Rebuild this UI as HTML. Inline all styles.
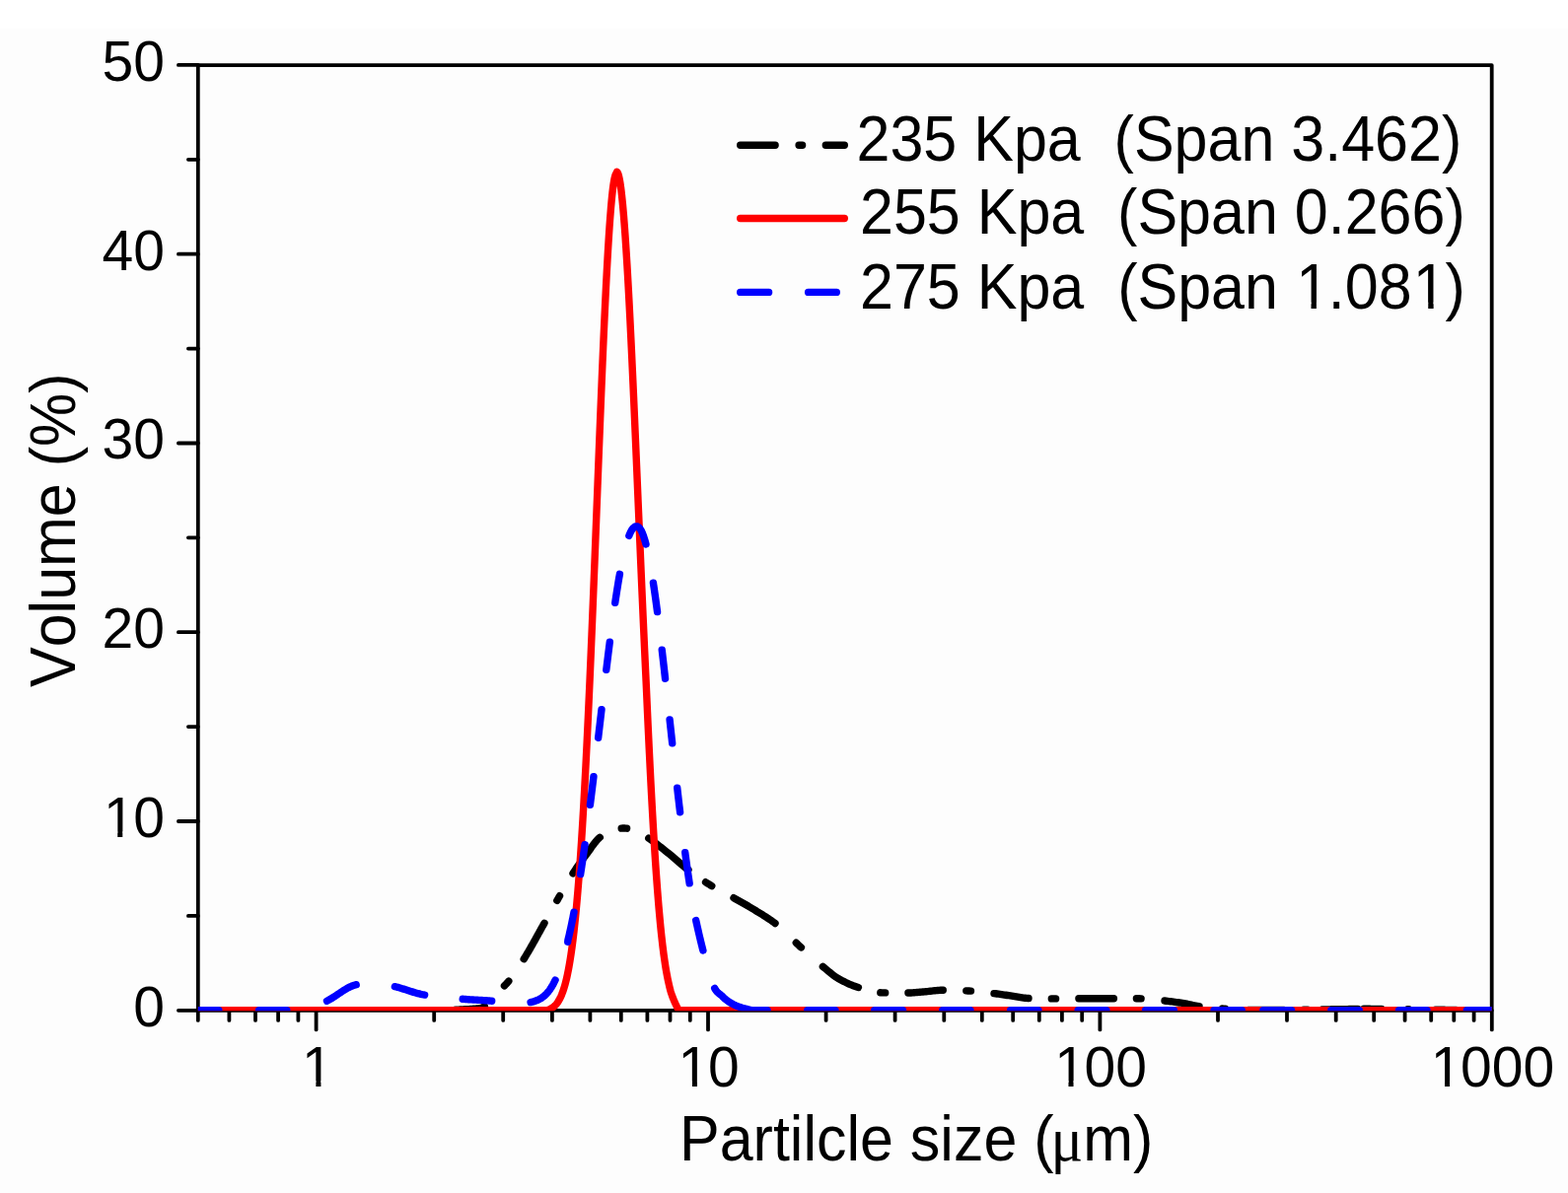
<!DOCTYPE html>
<html><head><meta charset="utf-8"><style>
html,body{margin:0;padding:0;background:#fff;}
svg{display:block;}
text{font-family:"Liberation Sans",Arial,sans-serif;fill:#000;font-kerning:none;}
</style></head><body>
<svg width="1590" height="1210" viewBox="0 0 1590 1210">
<rect x="0" y="29" width="1590" height="1181" fill="#fdfdfd"/>
<defs><clipPath id="pc"><rect x="200.8" y="66.1" width="1311.9" height="959.0999999999999"/></clipPath></defs>
<g stroke="#000" stroke-width="3.8" stroke-linecap="round" fill="none">
<rect x="200.8" y="66.1" width="1311.9" height="958.6999999999999" stroke-linejoin="round"/>
<line x1="180.9" y1="1024.8" x2="200.8" y2="1024.8"/>
<line x1="180.9" y1="833.0" x2="200.8" y2="833.0"/>
<line x1="180.9" y1="641.2" x2="200.8" y2="641.2"/>
<line x1="180.9" y1="449.5" x2="200.8" y2="449.5"/>
<line x1="180.9" y1="257.7" x2="200.8" y2="257.7"/>
<line x1="180.9" y1="65.9" x2="200.8" y2="65.9"/>
<line x1="190.9" y1="928.9" x2="200.8" y2="928.9"/>
<line x1="190.9" y1="737.1" x2="200.8" y2="737.1"/>
<line x1="190.9" y1="545.3" x2="200.8" y2="545.3"/>
<line x1="190.9" y1="353.6" x2="200.8" y2="353.6"/>
<line x1="190.9" y1="161.8" x2="200.8" y2="161.8"/>
<line x1="320.6" y1="1024.8" x2="320.6" y2="1044.4"/>
<line x1="718.0" y1="1024.8" x2="718.0" y2="1044.4"/>
<line x1="1115.4" y1="1024.8" x2="1115.4" y2="1044.4"/>
<line x1="1512.8" y1="1024.8" x2="1512.8" y2="1044.4"/>
<line x1="232.4" y1="1024.8" x2="232.4" y2="1034.9"/>
<line x1="259.0" y1="1024.8" x2="259.0" y2="1034.9"/>
<line x1="282.1" y1="1024.8" x2="282.1" y2="1034.9"/>
<line x1="302.4" y1="1024.8" x2="302.4" y2="1034.9"/>
<line x1="440.2" y1="1024.8" x2="440.2" y2="1034.9"/>
<line x1="510.2" y1="1024.8" x2="510.2" y2="1034.9"/>
<line x1="559.9" y1="1024.8" x2="559.9" y2="1034.9"/>
<line x1="598.4" y1="1024.8" x2="598.4" y2="1034.9"/>
<line x1="629.8" y1="1024.8" x2="629.8" y2="1034.9"/>
<line x1="656.4" y1="1024.8" x2="656.4" y2="1034.9"/>
<line x1="679.5" y1="1024.8" x2="679.5" y2="1034.9"/>
<line x1="699.8" y1="1024.8" x2="699.8" y2="1034.9"/>
<line x1="837.6" y1="1024.8" x2="837.6" y2="1034.9"/>
<line x1="907.6" y1="1024.8" x2="907.6" y2="1034.9"/>
<line x1="957.3" y1="1024.8" x2="957.3" y2="1034.9"/>
<line x1="995.8" y1="1024.8" x2="995.8" y2="1034.9"/>
<line x1="1027.2" y1="1024.8" x2="1027.2" y2="1034.9"/>
<line x1="1053.8" y1="1024.8" x2="1053.8" y2="1034.9"/>
<line x1="1076.9" y1="1024.8" x2="1076.9" y2="1034.9"/>
<line x1="1097.2" y1="1024.8" x2="1097.2" y2="1034.9"/>
<line x1="1235.0" y1="1024.8" x2="1235.0" y2="1034.9"/>
<line x1="1305.0" y1="1024.8" x2="1305.0" y2="1034.9"/>
<line x1="1354.7" y1="1024.8" x2="1354.7" y2="1034.9"/>
<line x1="1393.2" y1="1024.8" x2="1393.2" y2="1034.9"/>
<line x1="1424.6" y1="1024.8" x2="1424.6" y2="1034.9"/>
<line x1="1451.2" y1="1024.8" x2="1451.2" y2="1034.9"/>
<line x1="1474.3" y1="1024.8" x2="1474.3" y2="1034.9"/>
<line x1="1494.6" y1="1024.8" x2="1494.6" y2="1034.9"/>
<line x1="200.8" y1="1024.8" x2="200.8" y2="1034.9"/>
</g>
<g clip-path="url(#pc)" fill="none" stroke-width="7.4" stroke-linejoin="round" stroke-linecap="round">
<path d="M462.00,1024.19 L463.50,1024.14 L465.00,1024.08 L466.50,1024.03 L468.00,1023.96 L469.50,1023.89 L471.00,1023.82 L472.50,1023.74 L474.00,1023.66 L475.50,1023.57 L477.00,1023.48 L478.50,1023.38 L480.00,1023.28 L481.50,1023.15 L483.00,1023.01 L484.50,1022.83 L486.00,1022.63 L487.50,1022.39 L488.95,1022.02 L490.30,1021.29 L491.25,1020.58 M511.45,999.89 L512.50,998.79 L513.55,997.67 L514.60,996.52 L515.60,995.38 L515.80,995.14 M531.20,972.70 L532.00,971.42 L532.80,970.12 L533.60,968.81 L534.40,967.47 L535.20,966.13 L536.00,964.77 L536.80,963.40 L537.60,962.02 L538.35,960.71 L539.10,959.39 L539.85,958.07 L540.60,956.74 L541.35,955.41 L542.10,954.07 L542.85,952.72 L543.60,951.37 L544.35,950.02 L545.10,948.67 L545.85,947.32 L546.60,945.97 L547.35,944.61 L548.10,943.26 L548.85,941.92 L549.60,940.57 L550.35,939.23 L551.10,937.89 L551.85,936.57 L552.00,936.30 M564.85,913.36 L565.60,912.05 L566.35,910.74 L567.10,909.43 L567.50,908.73 M581.00,885.80 L581.85,884.50 L582.70,883.21 L583.55,881.94 L584.40,880.69 L585.25,879.45 L586.15,878.15 L587.05,876.87 L587.95,875.60 L588.85,874.34 L589.75,873.09 L590.65,871.86 L591.55,870.63 L592.45,869.41 L593.35,868.20 L594.25,867.00 L595.20,865.73 L596.10,864.51 L597.00,863.27 L597.90,862.00 L598.80,860.74 L599.70,859.47 L600.60,858.21 L601.50,856.98 L602.40,855.78 L603.35,854.55 L604.30,853.38 L605.30,852.22 L606.35,851.09 L607.45,850.03 L608.30,849.30 M630.20,840.14 L631.70,840.03 L633.20,840.00 L634.70,840.08 L635.60,840.17 M657.80,850.20 L659.05,851.05 L660.30,851.91 L661.55,852.80 L662.80,853.71 L664.05,854.64 L665.25,855.54 L666.45,856.46 L667.65,857.38 L668.85,858.32 L670.05,859.26 L671.25,860.21 L672.45,861.17 L673.65,862.13 L674.85,863.09 L676.05,864.04 L677.25,865.00 L678.45,865.97 L679.65,866.96 L680.85,867.96 L682.00,868.93 L683.15,869.91 L684.30,870.90 L685.45,871.89 L686.60,872.88 L687.75,873.87 L688.90,874.86 L690.05,875.84 L691.20,876.82 L692.40,877.82 L693.60,878.81 L694.80,879.78 L696.00,880.73 L697.20,881.65 L697.95,882.22 M715.55,894.76 L716.85,895.60 L718.15,896.42 L719.45,897.22 L720.75,898.01 L721.75,898.60 M744.00,910.70 L745.35,911.46 L746.70,912.22 L748.05,912.98 L749.40,913.74 L750.75,914.50 L752.10,915.26 L753.45,916.03 L754.80,916.79 L756.15,917.57 L757.45,918.32 L758.75,919.07 L760.05,919.83 L761.35,920.60 L762.65,921.38 L763.95,922.16 L765.25,922.95 L766.55,923.75 L767.85,924.54 L769.15,925.33 L770.45,926.12 L771.75,926.91 L773.05,927.72 L774.35,928.53 L775.65,929.35 L776.95,930.18 L778.25,931.03 L779.50,931.86 L780.75,932.71 L782.00,933.57 L783.25,934.46 L784.50,935.37 L785.75,936.31 L786.00,936.50 M807.30,956.29 L808.40,957.32 L809.55,958.37 L810.70,959.41 L811.85,960.46 L812.40,960.95 M834.40,980.30 L835.60,981.30 L836.75,982.27 L837.90,983.25 L839.05,984.23 L840.20,985.21 L841.40,986.21 L842.60,987.19 L843.80,988.15 L845.00,989.07 L846.25,989.99 L847.50,990.85 L848.80,991.68 L850.10,992.45 L851.45,993.21 L852.80,993.95 L854.15,994.68 L855.50,995.38 L856.85,996.06 L858.20,996.72 L859.60,997.38 L861.00,998.01 L862.40,998.61 L863.80,999.19 L865.20,999.74 L866.65,1000.27 L868.10,1000.77 L869.55,1001.24 L870.40,1001.50 M892.80,1006.81 L894.30,1006.88 L895.80,1006.90 L897.30,1006.92 L897.70,1006.92 M920.90,1007.00 L922.40,1006.98 L923.90,1006.94 L925.40,1006.87 L926.90,1006.77 L928.40,1006.66 L929.90,1006.54 L931.40,1006.40 L932.90,1006.26 L934.40,1006.11 L935.90,1005.97 L937.40,1005.82 L938.90,1005.69 L940.40,1005.57 L941.90,1005.43 L943.40,1005.27 L944.90,1005.11 L946.40,1004.93 L947.90,1004.77 L949.40,1004.61 L950.90,1004.46 L952.40,1004.35 L953.90,1004.26 L955.40,1004.21 L956.30,1004.20 M979.80,1004.89 L981.30,1004.96 L982.80,1005.03 L984.30,1005.12 L984.50,1005.13 M1008.00,1007.60 L1009.50,1007.78 L1011.00,1007.98 L1012.50,1008.18 L1014.00,1008.39 L1015.50,1008.61 L1017.00,1008.83 L1018.50,1009.05 L1020.00,1009.27 L1021.50,1009.50 L1023.00,1009.71 L1024.50,1009.93 L1026.00,1010.15 L1027.50,1010.38 L1029.00,1010.63 L1030.50,1010.89 L1032.00,1011.16 L1033.50,1011.41 L1035.00,1011.66 L1036.50,1011.89 L1038.00,1012.09 L1039.50,1012.26 L1041.00,1012.40 L1042.50,1012.48 L1043.00,1012.50 M1066.30,1012.90 L1067.80,1012.90 L1069.30,1012.90 L1070.60,1012.90 M1093.90,1012.70 L1095.40,1012.70 L1096.90,1012.70 L1098.40,1012.70 L1099.90,1012.70 L1101.40,1012.70 L1102.90,1012.70 L1104.40,1012.70 L1105.90,1012.70 L1107.40,1012.70 L1108.90,1012.70 L1110.40,1012.70 L1111.90,1012.70 L1113.40,1012.70 L1114.90,1012.70 L1116.40,1012.70 L1117.90,1012.70 L1119.40,1012.70 L1120.90,1012.70 L1122.40,1012.70 L1123.90,1012.70 L1125.40,1012.70 L1126.90,1012.70 L1128.40,1012.70 L1129.40,1012.70 M1152.40,1012.78 L1153.90,1012.79 L1155.40,1012.81 L1156.90,1012.84 L1157.10,1012.85 M1181.00,1015.05 L1182.50,1015.22 L1184.00,1015.39 L1185.50,1015.56 L1187.00,1015.74 L1188.50,1015.93 L1190.00,1016.13 L1191.50,1016.33 L1193.00,1016.54 L1194.50,1016.76 L1196.00,1016.98 L1197.50,1017.21 L1199.00,1017.44 L1200.50,1017.68 L1202.00,1017.95 L1203.50,1018.24 L1205.00,1018.55 L1206.50,1018.87 L1208.00,1019.19 L1209.50,1019.52 L1211.00,1019.84 L1212.50,1020.14 L1214.00,1020.42 L1215.50,1020.69 L1216.00,1020.77 M1239.50,1023.05 L1241.00,1023.10 L1242.50,1023.17 M1266.00,1024.43 L1267.50,1024.44 L1269.00,1024.44 L1270.50,1024.45 L1272.00,1024.45 L1273.50,1024.46 L1275.00,1024.46 L1276.50,1024.47 L1278.00,1024.47 L1279.50,1024.48 L1281.00,1024.48 L1282.50,1024.48 L1284.00,1024.49 L1285.50,1024.49 L1287.00,1024.49 L1288.50,1024.49 L1290.00,1024.49 L1291.50,1024.50 L1293.00,1024.50 L1294.50,1024.50 L1296.00,1024.50 L1297.50,1024.50 L1299.00,1024.50 L1300.50,1024.50 L1302.00,1024.50 M1322.00,1024.25 L1323.50,1024.23 L1325.00,1024.20 L1326.00,1024.18 M1340.90,1023.95 L1342.40,1023.92 L1343.90,1023.90 L1345.40,1023.88 L1346.90,1023.86 L1348.40,1023.84 L1349.90,1023.82 L1351.40,1023.80 L1352.90,1023.78 L1354.40,1023.75 L1355.90,1023.73 L1357.40,1023.71 L1358.90,1023.69 L1360.40,1023.67 L1361.90,1023.65 L1363.40,1023.62 L1364.90,1023.60 L1366.40,1023.58 L1367.90,1023.55 L1369.40,1023.52 L1370.90,1023.49 L1372.40,1023.46 L1373.90,1023.43 L1375.40,1023.41 L1376.90,1023.38 L1377.00,1023.38 M1383.00,1023.31 L1384.50,1023.30 L1386.00,1023.30 L1387.50,1023.31 L1389.00,1023.32 L1390.50,1023.34 L1392.00,1023.37 L1393.50,1023.39 L1395.00,1023.42 L1396.50,1023.45 L1398.00,1023.48 L1399.50,1023.51 L1401.00,1023.54 M1427.50,1023.80 L1428.50,1023.80 M1455.60,1024.11 L1457.10,1024.13 L1458.60,1024.16 L1460.10,1024.19 L1461.60,1024.23 L1463.10,1024.26 L1464.60,1024.30 L1466.10,1024.34 L1467.60,1024.37 L1469.10,1024.41 L1470.60,1024.45 L1472.10,1024.48 L1473.60,1024.51 L1475.10,1024.54 L1476.60,1024.56 L1478.10,1024.58 L1479.60,1024.60 L1481.10,1024.61 L1482.60,1024.62 L1484.10,1024.63 L1485.60,1024.64 L1487.10,1024.65 L1488.60,1024.66 L1490.10,1024.67 L1491.60,1024.68 L1492.00,1024.68" stroke="#000"/>
<path d="M190.0,1024.80 L190.5,1024.80 L191.0,1024.80 L191.5,1024.80 L192.0,1024.80 L192.5,1024.80 L193.0,1024.80 L193.5,1024.80 L194.0,1024.80 L194.5,1024.80 L195.0,1024.80 L195.5,1024.80 L196.0,1024.80 L196.5,1024.80 L197.0,1024.80 L197.5,1024.80 L198.0,1024.80 L198.5,1024.80 L199.0,1024.80 L199.5,1024.80 L200.0,1024.80 L200.5,1024.80 L201.0,1024.80 L201.5,1024.80 L202.0,1024.80 L202.5,1024.80 L203.0,1024.80 L203.5,1024.80 L204.0,1024.80 L204.5,1024.80 L205.0,1024.80 L205.5,1024.80 L206.0,1024.80 L206.5,1024.80 L207.0,1024.80 L207.5,1024.80 L208.0,1024.80 L208.5,1024.80 L209.0,1024.80 L209.5,1024.80 L210.0,1024.80 L210.5,1024.80 L211.0,1024.80 L211.5,1024.80 L212.0,1024.80 L212.5,1024.80 L213.0,1024.80 L213.5,1024.80 L214.0,1024.80 L214.5,1024.80 L215.0,1024.80 L215.5,1024.80 L216.0,1024.80 L216.5,1024.80 L217.0,1024.80 L217.5,1024.80 L218.0,1024.80 L218.5,1024.80 L219.0,1024.80 L219.5,1024.80 L220.0,1024.80 L220.5,1024.80 L221.0,1024.80 L221.5,1024.80 L222.0,1024.80 L222.5,1024.80 L223.0,1024.80 L223.5,1024.80 L224.0,1024.80 L224.5,1024.80 L225.0,1024.80 L225.5,1024.80 L226.0,1024.80 L226.5,1024.80 L227.0,1024.80 L227.5,1024.80 L228.0,1024.80 L228.5,1024.80 L229.0,1024.80 L229.5,1024.80 L230.0,1024.80 L230.5,1024.80 L231.0,1024.80 L231.5,1024.80 L232.0,1024.80 L232.5,1024.80 L233.0,1024.80 L233.5,1024.80 L234.0,1024.80 L234.5,1024.80 L235.0,1024.80 L235.5,1024.80 L236.0,1024.80 L236.5,1024.80 L237.0,1024.80 L237.5,1024.80 L238.0,1024.80 L238.5,1024.80 L239.0,1024.80 L239.5,1024.80 L240.0,1024.80 L240.5,1024.80 L241.0,1024.80 L241.5,1024.80 L242.0,1024.80 L242.5,1024.80 L243.0,1024.80 L243.5,1024.80 L244.0,1024.80 L244.5,1024.80 L245.0,1024.80 L245.5,1024.80 L246.0,1024.80 L246.5,1024.80 L247.0,1024.80 L247.5,1024.80 L248.0,1024.80 L248.5,1024.80 L249.0,1024.80 L249.5,1024.80 L250.0,1024.80 L250.5,1024.80 L251.0,1024.80 L251.5,1024.80 L252.0,1024.80 L252.5,1024.80 L253.0,1024.80 L253.5,1024.80 L254.0,1024.80 L254.5,1024.80 L255.0,1024.80 L255.5,1024.80 L256.0,1024.80 L256.5,1024.80 L257.0,1024.80 L257.5,1024.80 L258.0,1024.80 L258.5,1024.80 L259.0,1024.80 L259.5,1024.80 L260.0,1024.80 L260.5,1024.80 L261.0,1024.80 L261.5,1024.80 L262.0,1024.80 L262.5,1024.80 L263.0,1024.80 L263.5,1024.80 L264.0,1024.80 L264.5,1024.80 L265.0,1024.80 L265.5,1024.80 L266.0,1024.80 L266.5,1024.80 L267.0,1024.80 L267.5,1024.80 L268.0,1024.80 L268.5,1024.80 L269.0,1024.80 L269.5,1024.80 L270.0,1024.80 L270.5,1024.80 L271.0,1024.80 L271.5,1024.80 L272.0,1024.80 L272.5,1024.80 L273.0,1024.80 L273.5,1024.80 L274.0,1024.80 L274.5,1024.80 L275.0,1024.80 L275.5,1024.80 L276.0,1024.80 L276.5,1024.80 L277.0,1024.80 L277.5,1024.80 L278.0,1024.80 L278.5,1024.80 L279.0,1024.80 L279.5,1024.80 L280.0,1024.80 L280.5,1024.80 L281.0,1024.80 L281.5,1024.80 L282.0,1024.80 L282.5,1024.80 L283.0,1024.80 L283.5,1024.80 L284.0,1024.80 L284.5,1024.80 L285.0,1024.80 L285.5,1024.80 L286.0,1024.80 L286.5,1024.80 L287.0,1024.80 L287.5,1024.80 L288.0,1024.80 L288.5,1024.80 L289.0,1024.80 L289.5,1024.80 L290.0,1024.80 L290.5,1024.80 L291.0,1024.80 L291.5,1024.80 L292.0,1024.80 L292.5,1024.80 L293.0,1024.80 L293.5,1024.80 L294.0,1024.80 L294.5,1024.80 L295.0,1024.80 L295.5,1024.80 L296.0,1024.80 L296.5,1024.80 L297.0,1024.80 L297.5,1024.80 L298.0,1024.80 L298.5,1024.80 L299.0,1024.80 L299.5,1024.80 L300.0,1024.80 L300.5,1024.80 L301.0,1024.80 L301.5,1024.80 L302.0,1024.80 L302.5,1024.80 L303.0,1024.80 L303.5,1024.80 L304.0,1024.80 L304.5,1024.80 L305.0,1024.80 L305.5,1024.80 L306.0,1024.80 L306.5,1024.80 L307.0,1024.80 L307.5,1024.80 L308.0,1024.80 L308.5,1024.80 L309.0,1024.80 L309.5,1024.80 L310.0,1024.80 L310.5,1024.80 L311.0,1024.80 L311.5,1024.80 L312.0,1024.80 L312.5,1024.80 L313.0,1024.80 L313.5,1024.80 L314.0,1024.80 L314.5,1024.80 L315.0,1024.80 L315.5,1024.80 L316.0,1024.80 L316.5,1024.80 L317.0,1024.80 L317.5,1024.80 L318.0,1024.80 L318.5,1024.80 L319.0,1024.80 L319.5,1024.80 L320.0,1024.80 L320.5,1024.80 L321.0,1024.80 L321.5,1024.80 L322.0,1024.80 L322.5,1024.80 L323.0,1024.80 L323.5,1024.80 L324.0,1024.80 L324.5,1024.80 L325.0,1024.80 L325.5,1024.80 L326.0,1024.80 L326.5,1024.80 L327.0,1024.80 L327.5,1024.80 L328.0,1024.80 L328.5,1024.80 L329.0,1024.80 L329.5,1024.80 L330.0,1024.80 L330.5,1024.80 L331.0,1024.80 L331.5,1024.80 L332.0,1024.80 L332.5,1024.80 L333.0,1024.80 L333.5,1024.80 L334.0,1024.80 L334.5,1024.80 L335.0,1024.80 L335.5,1024.80 L336.0,1024.80 L336.5,1024.80 L337.0,1024.80 L337.5,1024.80 L338.0,1024.80 L338.5,1024.80 L339.0,1024.80 L339.5,1024.80 L340.0,1024.80 L340.5,1024.80 L341.0,1024.80 L341.5,1024.80 L342.0,1024.80 L342.5,1024.80 L343.0,1024.80 L343.5,1024.80 L344.0,1024.80 L344.5,1024.80 L345.0,1024.80 L345.5,1024.80 L346.0,1024.80 L346.5,1024.80 L347.0,1024.80 L347.5,1024.80 L348.0,1024.80 L348.5,1024.80 L349.0,1024.80 L349.5,1024.80 L350.0,1024.80 L350.5,1024.80 L351.0,1024.80 L351.5,1024.80 L352.0,1024.80 L352.5,1024.80 L353.0,1024.80 L353.5,1024.80 L354.0,1024.80 L354.5,1024.80 L355.0,1024.80 L355.5,1024.80 L356.0,1024.80 L356.5,1024.80 L357.0,1024.80 L357.5,1024.80 L358.0,1024.80 L358.5,1024.80 L359.0,1024.80 L359.5,1024.80 L360.0,1024.80 L360.5,1024.80 L361.0,1024.80 L361.5,1024.80 L362.0,1024.80 L362.5,1024.80 L363.0,1024.80 L363.5,1024.80 L364.0,1024.80 L364.5,1024.80 L365.0,1024.80 L365.5,1024.80 L366.0,1024.80 L366.5,1024.80 L367.0,1024.80 L367.5,1024.80 L368.0,1024.80 L368.5,1024.80 L369.0,1024.80 L369.5,1024.80 L370.0,1024.80 L370.5,1024.80 L371.0,1024.80 L371.5,1024.80 L372.0,1024.80 L372.5,1024.80 L373.0,1024.80 L373.5,1024.80 L374.0,1024.80 L374.5,1024.80 L375.0,1024.80 L375.5,1024.80 L376.0,1024.80 L376.5,1024.80 L377.0,1024.80 L377.5,1024.80 L378.0,1024.80 L378.5,1024.80 L379.0,1024.80 L379.5,1024.80 L380.0,1024.80 L380.5,1024.80 L381.0,1024.80 L381.5,1024.80 L382.0,1024.80 L382.5,1024.80 L383.0,1024.80 L383.5,1024.80 L384.0,1024.80 L384.5,1024.80 L385.0,1024.80 L385.5,1024.80 L386.0,1024.80 L386.5,1024.80 L387.0,1024.80 L387.5,1024.80 L388.0,1024.80 L388.5,1024.80 L389.0,1024.80 L389.5,1024.80 L390.0,1024.80 L390.5,1024.80 L391.0,1024.80 L391.5,1024.80 L392.0,1024.80 L392.5,1024.80 L393.0,1024.80 L393.5,1024.80 L394.0,1024.80 L394.5,1024.80 L395.0,1024.80 L395.5,1024.80 L396.0,1024.80 L396.5,1024.80 L397.0,1024.80 L397.5,1024.80 L398.0,1024.80 L398.5,1024.80 L399.0,1024.80 L399.5,1024.80 L400.0,1024.80 L400.5,1024.80 L401.0,1024.80 L401.5,1024.80 L402.0,1024.80 L402.5,1024.80 L403.0,1024.80 L403.5,1024.80 L404.0,1024.80 L404.5,1024.80 L405.0,1024.80 L405.5,1024.80 L406.0,1024.80 L406.5,1024.80 L407.0,1024.80 L407.5,1024.80 L408.0,1024.80 L408.5,1024.80 L409.0,1024.80 L409.5,1024.80 L410.0,1024.80 L410.5,1024.80 L411.0,1024.80 L411.5,1024.80 L412.0,1024.80 L412.5,1024.80 L413.0,1024.80 L413.5,1024.80 L414.0,1024.80 L414.5,1024.80 L415.0,1024.80 L415.5,1024.80 L416.0,1024.80 L416.5,1024.80 L417.0,1024.80 L417.5,1024.80 L418.0,1024.80 L418.5,1024.80 L419.0,1024.80 L419.5,1024.80 L420.0,1024.80 L420.5,1024.80 L421.0,1024.80 L421.5,1024.80 L422.0,1024.80 L422.5,1024.80 L423.0,1024.80 L423.5,1024.80 L424.0,1024.80 L424.5,1024.80 L425.0,1024.80 L425.5,1024.80 L426.0,1024.80 L426.5,1024.80 L427.0,1024.80 L427.5,1024.80 L428.0,1024.80 L428.5,1024.80 L429.0,1024.80 L429.5,1024.80 L430.0,1024.80 L430.5,1024.80 L431.0,1024.80 L431.5,1024.80 L432.0,1024.80 L432.5,1024.80 L433.0,1024.80 L433.5,1024.80 L434.0,1024.80 L434.5,1024.80 L435.0,1024.80 L435.5,1024.80 L436.0,1024.80 L436.5,1024.80 L437.0,1024.80 L437.5,1024.80 L438.0,1024.80 L438.5,1024.80 L439.0,1024.80 L439.5,1024.80 L440.0,1024.80 L440.5,1024.80 L441.0,1024.80 L441.5,1024.80 L442.0,1024.80 L442.5,1024.80 L443.0,1024.80 L443.5,1024.80 L444.0,1024.80 L444.5,1024.80 L445.0,1024.80 L445.5,1024.80 L446.0,1024.80 L446.5,1024.80 L447.0,1024.80 L447.5,1024.80 L448.0,1024.80 L448.5,1024.80 L449.0,1024.80 L449.5,1024.80 L450.0,1024.80 L450.5,1024.80 L451.0,1024.80 L451.5,1024.80 L452.0,1024.80 L452.5,1024.80 L453.0,1024.80 L453.5,1024.80 L454.0,1024.80 L454.5,1024.80 L455.0,1024.80 L455.5,1024.80 L456.0,1024.80 L456.5,1024.80 L457.0,1024.80 L457.5,1024.80 L458.0,1024.80 L458.5,1024.80 L459.0,1024.80 L459.5,1024.80 L460.0,1024.80 L460.5,1024.80 L461.0,1024.80 L461.5,1024.80 L462.0,1024.80 L462.5,1024.80 L463.0,1024.80 L463.5,1024.80 L464.0,1024.80 L464.5,1024.80 L465.0,1024.80 L465.5,1024.80 L466.0,1024.80 L466.5,1024.80 L467.0,1024.80 L467.5,1024.80 L468.0,1024.80 L468.5,1024.80 L469.0,1024.80 L469.5,1024.80 L470.0,1024.80 L470.5,1024.80 L471.0,1024.80 L471.5,1024.80 L472.0,1024.80 L472.5,1024.80 L473.0,1024.80 L473.5,1024.80 L474.0,1024.80 L474.5,1024.80 L475.0,1024.80 L475.5,1024.80 L476.0,1024.80 L476.5,1024.80 L477.0,1024.80 L477.5,1024.80 L478.0,1024.80 L478.5,1024.80 L479.0,1024.80 L479.5,1024.80 L480.0,1024.80 L480.5,1024.80 L481.0,1024.80 L481.5,1024.80 L482.0,1024.80 L482.5,1024.80 L483.0,1024.80 L483.5,1024.80 L484.0,1024.80 L484.5,1024.80 L485.0,1024.80 L485.5,1024.80 L486.0,1024.80 L486.5,1024.80 L487.0,1024.80 L487.5,1024.80 L488.0,1024.80 L488.5,1024.80 L489.0,1024.80 L489.5,1024.80 L490.0,1024.80 L490.5,1024.80 L491.0,1024.80 L491.5,1024.80 L492.0,1024.80 L492.5,1024.80 L493.0,1024.80 L493.5,1024.80 L494.0,1024.80 L494.5,1024.80 L495.0,1024.80 L495.5,1024.80 L496.0,1024.80 L496.5,1024.80 L497.0,1024.80 L497.5,1024.80 L498.0,1024.80 L498.5,1024.80 L499.0,1024.80 L499.5,1024.80 L500.0,1024.80 L500.5,1024.80 L501.0,1024.80 L501.5,1024.80 L502.0,1024.80 L502.5,1024.80 L503.0,1024.80 L503.5,1024.80 L504.0,1024.80 L504.5,1024.80 L505.0,1024.80 L505.5,1024.80 L506.0,1024.80 L506.5,1024.80 L507.0,1024.80 L507.5,1024.80 L508.0,1024.80 L508.5,1024.80 L509.0,1024.80 L509.5,1024.80 L510.0,1024.80 L510.5,1024.80 L511.0,1024.80 L511.5,1024.80 L512.0,1024.80 L512.5,1024.80 L513.0,1024.80 L513.5,1024.80 L514.0,1024.80 L514.5,1024.80 L515.0,1024.80 L515.5,1024.80 L516.0,1024.80 L516.5,1024.80 L517.0,1024.80 L517.5,1024.80 L518.0,1024.80 L518.5,1024.80 L519.0,1024.80 L519.5,1024.80 L520.0,1024.80 L520.5,1024.80 L521.0,1024.80 L521.5,1024.80 L522.0,1024.80 L522.5,1024.80 L523.0,1024.80 L523.5,1024.80 L524.0,1024.80 L524.5,1024.80 L525.0,1024.80 L525.5,1024.80 L526.0,1024.80 L526.5,1024.80 L527.0,1024.80 L527.5,1024.80 L528.0,1024.80 L528.5,1024.80 L529.0,1024.80 L529.5,1024.80 L530.0,1024.80 L530.5,1024.80 L531.0,1024.80 L531.5,1024.80 L532.0,1024.80 L532.5,1024.80 L533.0,1024.80 L533.5,1024.80 L534.0,1024.80 L534.5,1024.80 L535.0,1024.80 L535.5,1024.80 L536.0,1024.80 L536.5,1024.80 L537.0,1024.80 L537.5,1024.80 L538.0,1024.80 L538.5,1024.80 L539.0,1024.80 L539.5,1024.80 L540.0,1024.80 L540.5,1024.80 L541.0,1024.80 L541.5,1024.80 L542.0,1024.80 L542.5,1024.80 L543.0,1024.80 L543.5,1024.80 L544.0,1024.80 L544.5,1024.80 L545.0,1024.80 L545.5,1024.80 L546.0,1024.80 L546.5,1024.80 L547.0,1024.80 L547.5,1024.80 L548.0,1024.80 L548.5,1024.80 L549.0,1024.80 L549.5,1024.80 L550.0,1024.80 L550.5,1024.80 L551.0,1024.80 L551.5,1024.80 L552.0,1024.80 L552.5,1024.80 L553.0,1024.80 L553.5,1024.80 L554.0,1024.80 L554.5,1024.72 L555.0,1024.57 L555.5,1024.41 L556.0,1024.23 L556.5,1024.04 L557.0,1023.84 L557.5,1023.62 L558.0,1023.38 L558.5,1023.12 L559.0,1022.84 L559.5,1022.54 L560.0,1022.21 L560.5,1021.87 L561.0,1021.49 L561.5,1021.09 L562.0,1020.65 L562.5,1020.19 L563.0,1019.69 L563.5,1019.15 L564.0,1018.58 L564.5,1017.96 L565.0,1017.30 L565.5,1016.60 L566.0,1015.85 L566.5,1015.04 L567.0,1014.19 L567.5,1013.27 L568.0,1012.30 L568.5,1011.26 L569.0,1010.15 L569.5,1008.98 L570.0,1007.73 L570.5,1006.41 L571.0,1005.00 L571.5,1003.51 L572.0,1001.93 L572.5,1000.26 L573.0,998.49 L573.5,996.61 L574.0,994.64 L574.5,992.55 L575.0,990.34 L575.5,988.02 L576.0,985.57 L576.5,982.99 L577.0,980.28 L577.5,977.43 L578.0,974.44 L578.5,971.29 L579.0,968.00 L579.5,964.54 L580.0,960.92 L580.5,957.13 L581.0,953.17 L581.5,949.02 L582.0,944.70 L582.5,940.19 L583.0,935.48 L583.5,930.58 L584.0,925.47 L584.5,920.16 L585.0,914.64 L585.5,908.91 L586.0,902.95 L586.5,896.78 L587.0,890.39 L587.5,883.77 L588.0,876.91 L588.5,869.83 L589.0,862.51 L589.5,854.96 L590.0,847.18 L590.5,839.15 L591.0,830.89 L591.5,822.39 L592.0,813.66 L592.5,804.69 L593.0,795.49 L593.5,786.05 L594.0,776.38 L594.5,766.49 L595.0,756.38 L595.5,746.04 L596.0,735.50 L596.5,724.74 L597.0,713.78 L597.5,702.63 L598.0,691.29 L598.5,679.77 L599.0,668.07 L599.5,656.21 L600.0,644.20 L600.5,632.05 L601.0,619.76 L601.5,607.35 L602.0,594.84 L602.5,582.22 L603.0,569.53 L603.5,556.76 L604.0,543.94 L604.5,531.08 L605.0,518.19 L605.5,505.29 L606.0,492.40 L606.5,479.54 L607.0,466.71 L607.5,453.94 L608.0,441.25 L608.5,428.64 L609.0,416.15 L609.5,403.78 L610.0,391.56 L610.5,379.51 L611.0,367.64 L611.5,355.97 L612.0,344.52 L612.5,333.30 L613.0,322.34 L613.5,311.66 L614.0,301.27 L614.5,291.18 L615.0,281.42 L615.5,272.01 L616.0,262.95 L616.5,254.26 L617.0,245.97 L617.5,238.08 L618.0,230.60 L618.5,223.56 L619.0,216.96 L619.5,210.81 L620.0,205.14 L620.5,199.94 L621.0,195.22 L621.5,191.00 L622.0,187.29 L622.5,184.08 L623.0,181.40 L623.5,179.23 L624.0,177.58 L624.5,176.47 L625.0,175.89 L625.5,174.29 L626.0,174.69 L626.5,175.54 L627.0,176.84 L627.5,178.58 L628.0,180.75 L628.5,183.37 L629.0,186.42 L629.5,189.90 L630.0,193.80 L630.5,198.11 L631.0,202.84 L631.5,207.97 L632.0,213.49 L632.5,219.40 L633.0,225.69 L633.5,232.35 L634.0,239.36 L634.5,246.72 L635.0,254.42 L635.5,262.44 L636.0,270.78 L636.5,279.41 L637.0,288.34 L637.5,297.54 L638.0,307.01 L638.5,316.72 L639.0,326.67 L639.5,336.84 L640.0,347.22 L640.5,357.79 L641.0,368.55 L641.5,379.47 L642.0,390.54 L642.5,401.75 L643.0,413.09 L643.5,424.53 L644.0,436.07 L644.5,447.69 L645.0,459.38 L645.5,471.13 L646.0,482.91 L646.5,494.72 L647.0,506.55 L647.5,518.38 L648.0,530.20 L648.5,542.00 L649.0,553.77 L649.5,565.49 L650.0,577.15 L650.5,588.75 L651.0,600.27 L651.5,611.71 L652.0,623.04 L652.5,634.28 L653.0,645.39 L653.5,656.39 L654.0,667.25 L654.5,677.98 L655.0,688.56 L655.5,699.40 L656.0,710.71 L656.5,721.85 L657.0,732.83 L657.5,743.62 L658.0,754.23 L658.5,764.64 L659.0,774.85 L659.5,784.85 L660.0,794.64 L660.5,804.21 L661.0,813.55 L661.5,822.67 L662.0,831.56 L662.5,840.21 L663.0,848.62 L663.5,856.80 L664.0,864.74 L664.5,872.44 L665.0,879.89 L665.5,887.11 L666.0,894.08 L666.5,900.81 L667.0,907.31 L667.5,913.57 L668.0,919.59 L668.5,925.38 L669.0,930.95 L669.5,936.28 L670.0,941.40 L670.5,946.29 L671.0,950.98 L671.5,955.45 L672.0,959.72 L672.5,963.78 L673.0,967.66 L673.5,971.34 L674.0,974.84 L674.5,978.15 L675.0,981.30 L675.5,984.28 L676.0,987.11 L676.5,989.80 L677.0,992.35 L677.5,994.78 L678.0,997.09 L678.5,999.28 L679.0,1001.36 L679.5,1003.34 L680.0,1005.21 L680.5,1006.89 L681.0,1008.35 L681.5,1009.75 L682.0,1011.09 L682.5,1012.39 L683.0,1013.64 L683.5,1014.84 L684.0,1016.01 L684.5,1017.14 L685.0,1018.23 L685.5,1019.30 L686.0,1020.33 L686.5,1021.34 L687.0,1022.33 L687.5,1023.29 L688.0,1024.24 L688.5,1024.80 L689.0,1024.80 L689.5,1024.80 L690.0,1024.80 L690.5,1024.80 L691.0,1024.80 L691.5,1024.80 L692.0,1024.80 L692.5,1024.80 L693.0,1024.80 L693.5,1024.80 L694.0,1024.80 L694.5,1024.80 L695.0,1024.80 L695.5,1024.80 L696.0,1024.80 L696.5,1024.80 L697.0,1024.80 L697.5,1024.80 L698.0,1024.80 L698.5,1024.80 L699.0,1024.80 L699.5,1024.80 L700.0,1024.80 L700.5,1024.80 L701.0,1024.80 L701.5,1024.80 L702.0,1024.80 L702.5,1024.80 L703.0,1024.80 L703.5,1024.80 L704.0,1024.80 L704.5,1024.80 L705.0,1024.80 L705.5,1024.80 L706.0,1024.80 L706.5,1024.80 L707.0,1024.80 L707.5,1024.80 L708.0,1024.80 L708.5,1024.80 L709.0,1024.80 L709.5,1024.80 L710.0,1024.80 L710.5,1024.80 L711.0,1024.80 L711.5,1024.80 L712.0,1024.80 L712.5,1024.80 L713.0,1024.80 L713.5,1024.80 L714.0,1024.80 L714.5,1024.80 L715.0,1024.80 L715.5,1024.80 L716.0,1024.80 L716.5,1024.80 L717.0,1024.80 L717.5,1024.80 L718.0,1024.80 L718.5,1024.80 L719.0,1024.80 L719.5,1024.80 L720.0,1024.80 L720.5,1024.80 L721.0,1024.80 L721.5,1024.80 L722.0,1024.80 L722.5,1024.80 L723.0,1024.80 L723.5,1024.80 L724.0,1024.80 L724.5,1024.80 L725.0,1024.80 L725.5,1024.80 L726.0,1024.80 L726.5,1024.80 L727.0,1024.80 L727.5,1024.80 L728.0,1024.80 L728.5,1024.80 L729.0,1024.80 L729.5,1024.80 L730.0,1024.80 L730.5,1024.80 L731.0,1024.80 L731.5,1024.80 L732.0,1024.80 L732.5,1024.80 L733.0,1024.80 L733.5,1024.80 L734.0,1024.80 L734.5,1024.80 L735.0,1024.80 L735.5,1024.80 L736.0,1024.80 L736.5,1024.80 L737.0,1024.80 L737.5,1024.80 L738.0,1024.80 L738.5,1024.80 L739.0,1024.80 L739.5,1024.80 L740.0,1024.80 L740.5,1024.80 L741.0,1024.80 L741.5,1024.80 L742.0,1024.80 L742.5,1024.80 L743.0,1024.80 L743.5,1024.80 L744.0,1024.80 L744.5,1024.80 L745.0,1024.80 L745.5,1024.80 L746.0,1024.80 L746.5,1024.80 L747.0,1024.80 L747.5,1024.80 L748.0,1024.80 L748.5,1024.80 L749.0,1024.80 L749.5,1024.80 L750.0,1024.80 L750.5,1024.80 L751.0,1024.80 L751.5,1024.80 L752.0,1024.80 L752.5,1024.80 L753.0,1024.80 L753.5,1024.80 L754.0,1024.80 L754.5,1024.80 L755.0,1024.80 L755.5,1024.80 L756.0,1024.80 L756.5,1024.80 L757.0,1024.80 L757.5,1024.80 L758.0,1024.80 L758.5,1024.80 L759.0,1024.80 L759.5,1024.80 L760.0,1024.80 L760.5,1024.80 L761.0,1024.80 L761.5,1024.80 L762.0,1024.80 L762.5,1024.80 L763.0,1024.80 L763.5,1024.80 L764.0,1024.80 L764.5,1024.80 L765.0,1024.80 L765.5,1024.80 L766.0,1024.80 L766.5,1024.80 L767.0,1024.80 L767.5,1024.80 L768.0,1024.80 L768.5,1024.80 L769.0,1024.80 L769.5,1024.80 L770.0,1024.80 L770.5,1024.80 L771.0,1024.80 L771.5,1024.80 L772.0,1024.80 L772.5,1024.80 L773.0,1024.80 L773.5,1024.80 L774.0,1024.80 L774.5,1024.80 L775.0,1024.80 L775.5,1024.80 L776.0,1024.80 L776.5,1024.80 L777.0,1024.80 L777.5,1024.80 L778.0,1024.80 L778.5,1024.80 L779.0,1024.80 L779.5,1024.80 L780.0,1024.80 L780.5,1024.80 L781.0,1024.80 L781.5,1024.80 L782.0,1024.80 L782.5,1024.80 L783.0,1024.80 L783.5,1024.80 L784.0,1024.80 L784.5,1024.80 L785.0,1024.80 L785.5,1024.80 L786.0,1024.80 L786.5,1024.80 L787.0,1024.80 L787.5,1024.80 L788.0,1024.80 L788.5,1024.80 L789.0,1024.80 L789.5,1024.80 L790.0,1024.80 L790.5,1024.80 L791.0,1024.80 L791.5,1024.80 L792.0,1024.80 L792.5,1024.80 L793.0,1024.80 L793.5,1024.80 L794.0,1024.80 L794.5,1024.80 L795.0,1024.80 L795.5,1024.80 L796.0,1024.80 L796.5,1024.80 L797.0,1024.80 L797.5,1024.80 L798.0,1024.80 L798.5,1024.80 L799.0,1024.80 L799.5,1024.80 L800.0,1024.80 L800.5,1024.80 L801.0,1024.80 L801.5,1024.80 L802.0,1024.80 L802.5,1024.80 L803.0,1024.80 L803.5,1024.80 L804.0,1024.80 L804.5,1024.80 L805.0,1024.80 L805.5,1024.80 L806.0,1024.80 L806.5,1024.80 L807.0,1024.80 L807.5,1024.80 L808.0,1024.80 L808.5,1024.80 L809.0,1024.80 L809.5,1024.80 L810.0,1024.80 L810.5,1024.80 L811.0,1024.80 L811.5,1024.80 L812.0,1024.80 L812.5,1024.80 L813.0,1024.80 L813.5,1024.80 L814.0,1024.80 L814.5,1024.80 L815.0,1024.80 L815.5,1024.80 L816.0,1024.80 L816.5,1024.80 L817.0,1024.80 L817.5,1024.80 L818.0,1024.80 L818.5,1024.80 L819.0,1024.80 L819.5,1024.80 L820.0,1024.80 L820.5,1024.80 L821.0,1024.80 L821.5,1024.80 L822.0,1024.80 L822.5,1024.80 L823.0,1024.80 L823.5,1024.80 L824.0,1024.80 L824.5,1024.80 L825.0,1024.80 L825.5,1024.80 L826.0,1024.80 L826.5,1024.80 L827.0,1024.80 L827.5,1024.80 L828.0,1024.80 L828.5,1024.80 L829.0,1024.80 L829.5,1024.80 L830.0,1024.80 L830.5,1024.80 L831.0,1024.80 L831.5,1024.80 L832.0,1024.80 L832.5,1024.80 L833.0,1024.80 L833.5,1024.80 L834.0,1024.80 L834.5,1024.80 L835.0,1024.80 L835.5,1024.80 L836.0,1024.80 L836.5,1024.80 L837.0,1024.80 L837.5,1024.80 L838.0,1024.80 L838.5,1024.80 L839.0,1024.80 L839.5,1024.80 L840.0,1024.80 L840.5,1024.80 L841.0,1024.80 L841.5,1024.80 L842.0,1024.80 L842.5,1024.80 L843.0,1024.80 L843.5,1024.80 L844.0,1024.80 L844.5,1024.80 L845.0,1024.80 L845.5,1024.80 L846.0,1024.80 L846.5,1024.80 L847.0,1024.80 L847.5,1024.80 L848.0,1024.80 L848.5,1024.80 L849.0,1024.80 L849.5,1024.80 L850.0,1024.80 L850.5,1024.80 L851.0,1024.80 L851.5,1024.80 L852.0,1024.80 L852.5,1024.80 L853.0,1024.80 L853.5,1024.80 L854.0,1024.80 L854.5,1024.80 L855.0,1024.80 L855.5,1024.80 L856.0,1024.80 L856.5,1024.80 L857.0,1024.80 L857.5,1024.80 L858.0,1024.80 L858.5,1024.80 L859.0,1024.80 L859.5,1024.80 L860.0,1024.80 L860.5,1024.80 L861.0,1024.80 L861.5,1024.80 L862.0,1024.80 L862.5,1024.80 L863.0,1024.80 L863.5,1024.80 L864.0,1024.80 L864.5,1024.80 L865.0,1024.80 L865.5,1024.80 L866.0,1024.80 L866.5,1024.80 L867.0,1024.80 L867.5,1024.80 L868.0,1024.80 L868.5,1024.80 L869.0,1024.80 L869.5,1024.80 L870.0,1024.80 L870.5,1024.80 L871.0,1024.80 L871.5,1024.80 L872.0,1024.80 L872.5,1024.80 L873.0,1024.80 L873.5,1024.80 L874.0,1024.80 L874.5,1024.80 L875.0,1024.80 L875.5,1024.80 L876.0,1024.80 L876.5,1024.80 L877.0,1024.80 L877.5,1024.80 L878.0,1024.80 L878.5,1024.80 L879.0,1024.80 L879.5,1024.80 L880.0,1024.80 L880.5,1024.80 L881.0,1024.80 L881.5,1024.80 L882.0,1024.80 L882.5,1024.80 L883.0,1024.80 L883.5,1024.80 L884.0,1024.80 L884.5,1024.80 L885.0,1024.80 L885.5,1024.80 L886.0,1024.80 L886.5,1024.80 L887.0,1024.80 L887.5,1024.80 L888.0,1024.80 L888.5,1024.80 L889.0,1024.80 L889.5,1024.80 L890.0,1024.80 L890.5,1024.80 L891.0,1024.80 L891.5,1024.80 L892.0,1024.80 L892.5,1024.80 L893.0,1024.80 L893.5,1024.80 L894.0,1024.80 L894.5,1024.80 L895.0,1024.80 L895.5,1024.80 L896.0,1024.80 L896.5,1024.80 L897.0,1024.80 L897.5,1024.80 L898.0,1024.80 L898.5,1024.80 L899.0,1024.80 L899.5,1024.80 L900.0,1024.80 L900.5,1024.80 L901.0,1024.80 L901.5,1024.80 L902.0,1024.80 L902.5,1024.80 L903.0,1024.80 L903.5,1024.80 L904.0,1024.80 L904.5,1024.80 L905.0,1024.80 L905.5,1024.80 L906.0,1024.80 L906.5,1024.80 L907.0,1024.80 L907.5,1024.80 L908.0,1024.80 L908.5,1024.80 L909.0,1024.80 L909.5,1024.80 L910.0,1024.80 L910.5,1024.80 L911.0,1024.80 L911.5,1024.80 L912.0,1024.80 L912.5,1024.80 L913.0,1024.80 L913.5,1024.80 L914.0,1024.80 L914.5,1024.80 L915.0,1024.80 L915.5,1024.80 L916.0,1024.80 L916.5,1024.80 L917.0,1024.80 L917.5,1024.80 L918.0,1024.80 L918.5,1024.80 L919.0,1024.80 L919.5,1024.80 L920.0,1024.80 L920.5,1024.80 L921.0,1024.80 L921.5,1024.80 L922.0,1024.80 L922.5,1024.80 L923.0,1024.80 L923.5,1024.80 L924.0,1024.80 L924.5,1024.80 L925.0,1024.80 L925.5,1024.80 L926.0,1024.80 L926.5,1024.80 L927.0,1024.80 L927.5,1024.80 L928.0,1024.80 L928.5,1024.80 L929.0,1024.80 L929.5,1024.80 L930.0,1024.80 L930.5,1024.80 L931.0,1024.80 L931.5,1024.80 L932.0,1024.80 L932.5,1024.80 L933.0,1024.80 L933.5,1024.80 L934.0,1024.80 L934.5,1024.80 L935.0,1024.80 L935.5,1024.80 L936.0,1024.80 L936.5,1024.80 L937.0,1024.80 L937.5,1024.80 L938.0,1024.80 L938.5,1024.80 L939.0,1024.80 L939.5,1024.80 L940.0,1024.80 L940.5,1024.80 L941.0,1024.80 L941.5,1024.80 L942.0,1024.80 L942.5,1024.80 L943.0,1024.80 L943.5,1024.80 L944.0,1024.80 L944.5,1024.80 L945.0,1024.80 L945.5,1024.80 L946.0,1024.80 L946.5,1024.80 L947.0,1024.80 L947.5,1024.80 L948.0,1024.80 L948.5,1024.80 L949.0,1024.80 L949.5,1024.80 L950.0,1024.80 L950.5,1024.80 L951.0,1024.80 L951.5,1024.80 L952.0,1024.80 L952.5,1024.80 L953.0,1024.80 L953.5,1024.80 L954.0,1024.80 L954.5,1024.80 L955.0,1024.80 L955.5,1024.80 L956.0,1024.80 L956.5,1024.80 L957.0,1024.80 L957.5,1024.80 L958.0,1024.80 L958.5,1024.80 L959.0,1024.80 L959.5,1024.80 L960.0,1024.80 L960.5,1024.80 L961.0,1024.80 L961.5,1024.80 L962.0,1024.80 L962.5,1024.80 L963.0,1024.80 L963.5,1024.80 L964.0,1024.80 L964.5,1024.80 L965.0,1024.80 L965.5,1024.80 L966.0,1024.80 L966.5,1024.80 L967.0,1024.80 L967.5,1024.80 L968.0,1024.80 L968.5,1024.80 L969.0,1024.80 L969.5,1024.80 L970.0,1024.80 L970.5,1024.80 L971.0,1024.80 L971.5,1024.80 L972.0,1024.80 L972.5,1024.80 L973.0,1024.80 L973.5,1024.80 L974.0,1024.80 L974.5,1024.80 L975.0,1024.80 L975.5,1024.80 L976.0,1024.80 L976.5,1024.80 L977.0,1024.80 L977.5,1024.80 L978.0,1024.80 L978.5,1024.80 L979.0,1024.80 L979.5,1024.80 L980.0,1024.80 L980.5,1024.80 L981.0,1024.80 L981.5,1024.80 L982.0,1024.80 L982.5,1024.80 L983.0,1024.80 L983.5,1024.80 L984.0,1024.80 L984.5,1024.80 L985.0,1024.80 L985.5,1024.80 L986.0,1024.80 L986.5,1024.80 L987.0,1024.80 L987.5,1024.80 L988.0,1024.80 L988.5,1024.80 L989.0,1024.80 L989.5,1024.80 L990.0,1024.80 L990.5,1024.80 L991.0,1024.80 L991.5,1024.80 L992.0,1024.80 L992.5,1024.80 L993.0,1024.80 L993.5,1024.80 L994.0,1024.80 L994.5,1024.80 L995.0,1024.80 L995.5,1024.80 L996.0,1024.80 L996.5,1024.80 L997.0,1024.80 L997.5,1024.80 L998.0,1024.80 L998.5,1024.80 L999.0,1024.80 L999.5,1024.80 L1000.0,1024.80 L1000.5,1024.80 L1001.0,1024.80 L1001.5,1024.80 L1002.0,1024.80 L1002.5,1024.80 L1003.0,1024.80 L1003.5,1024.80 L1004.0,1024.80 L1004.5,1024.80 L1005.0,1024.80 L1005.5,1024.80 L1006.0,1024.80 L1006.5,1024.80 L1007.0,1024.80 L1007.5,1024.80 L1008.0,1024.80 L1008.5,1024.80 L1009.0,1024.80 L1009.5,1024.80 L1010.0,1024.80 L1010.5,1024.80 L1011.0,1024.80 L1011.5,1024.80 L1012.0,1024.80 L1012.5,1024.80 L1013.0,1024.80 L1013.5,1024.80 L1014.0,1024.80 L1014.5,1024.80 L1015.0,1024.80 L1015.5,1024.80 L1016.0,1024.80 L1016.5,1024.80 L1017.0,1024.80 L1017.5,1024.80 L1018.0,1024.80 L1018.5,1024.80 L1019.0,1024.80 L1019.5,1024.80 L1020.0,1024.80 L1020.5,1024.80 L1021.0,1024.80 L1021.5,1024.80 L1022.0,1024.80 L1022.5,1024.80 L1023.0,1024.80 L1023.5,1024.80 L1024.0,1024.80 L1024.5,1024.80 L1025.0,1024.80 L1025.5,1024.80 L1026.0,1024.80 L1026.5,1024.80 L1027.0,1024.80 L1027.5,1024.80 L1028.0,1024.80 L1028.5,1024.80 L1029.0,1024.80 L1029.5,1024.80 L1030.0,1024.80 L1030.5,1024.80 L1031.0,1024.80 L1031.5,1024.80 L1032.0,1024.80 L1032.5,1024.80 L1033.0,1024.80 L1033.5,1024.80 L1034.0,1024.80 L1034.5,1024.80 L1035.0,1024.80 L1035.5,1024.80 L1036.0,1024.80 L1036.5,1024.80 L1037.0,1024.80 L1037.5,1024.80 L1038.0,1024.80 L1038.5,1024.80 L1039.0,1024.80 L1039.5,1024.80 L1040.0,1024.80 L1040.5,1024.80 L1041.0,1024.80 L1041.5,1024.80 L1042.0,1024.80 L1042.5,1024.80 L1043.0,1024.80 L1043.5,1024.80 L1044.0,1024.80 L1044.5,1024.80 L1045.0,1024.80 L1045.5,1024.80 L1046.0,1024.80 L1046.5,1024.80 L1047.0,1024.80 L1047.5,1024.80 L1048.0,1024.80 L1048.5,1024.80 L1049.0,1024.80 L1049.5,1024.80 L1050.0,1024.80 L1050.5,1024.80 L1051.0,1024.80 L1051.5,1024.80 L1052.0,1024.80 L1052.5,1024.80 L1053.0,1024.80 L1053.5,1024.80 L1054.0,1024.80 L1054.5,1024.80 L1055.0,1024.80 L1055.5,1024.80 L1056.0,1024.80 L1056.5,1024.80 L1057.0,1024.80 L1057.5,1024.80 L1058.0,1024.80 L1058.5,1024.80 L1059.0,1024.80 L1059.5,1024.80 L1060.0,1024.80 L1060.5,1024.80 L1061.0,1024.80 L1061.5,1024.80 L1062.0,1024.80 L1062.5,1024.80 L1063.0,1024.80 L1063.5,1024.80 L1064.0,1024.80 L1064.5,1024.80 L1065.0,1024.80 L1065.5,1024.80 L1066.0,1024.80 L1066.5,1024.80 L1067.0,1024.80 L1067.5,1024.80 L1068.0,1024.80 L1068.5,1024.80 L1069.0,1024.80 L1069.5,1024.80 L1070.0,1024.80 L1070.5,1024.80 L1071.0,1024.80 L1071.5,1024.80 L1072.0,1024.80 L1072.5,1024.80 L1073.0,1024.80 L1073.5,1024.80 L1074.0,1024.80 L1074.5,1024.80 L1075.0,1024.80 L1075.5,1024.80 L1076.0,1024.80 L1076.5,1024.80 L1077.0,1024.80 L1077.5,1024.80 L1078.0,1024.80 L1078.5,1024.80 L1079.0,1024.80 L1079.5,1024.80 L1080.0,1024.80 L1080.5,1024.80 L1081.0,1024.80 L1081.5,1024.80 L1082.0,1024.80 L1082.5,1024.80 L1083.0,1024.80 L1083.5,1024.80 L1084.0,1024.80 L1084.5,1024.80 L1085.0,1024.80 L1085.5,1024.80 L1086.0,1024.80 L1086.5,1024.80 L1087.0,1024.80 L1087.5,1024.80 L1088.0,1024.80 L1088.5,1024.80 L1089.0,1024.80 L1089.5,1024.80 L1090.0,1024.80 L1090.5,1024.80 L1091.0,1024.80 L1091.5,1024.80 L1092.0,1024.80 L1092.5,1024.80 L1093.0,1024.80 L1093.5,1024.80 L1094.0,1024.80 L1094.5,1024.80 L1095.0,1024.80 L1095.5,1024.80 L1096.0,1024.80 L1096.5,1024.80 L1097.0,1024.80 L1097.5,1024.80 L1098.0,1024.80 L1098.5,1024.80 L1099.0,1024.80 L1099.5,1024.80 L1100.0,1024.80 L1100.5,1024.80 L1101.0,1024.80 L1101.5,1024.80 L1102.0,1024.80 L1102.5,1024.80 L1103.0,1024.80 L1103.5,1024.80 L1104.0,1024.80 L1104.5,1024.80 L1105.0,1024.80 L1105.5,1024.80 L1106.0,1024.80 L1106.5,1024.80 L1107.0,1024.80 L1107.5,1024.80 L1108.0,1024.80 L1108.5,1024.80 L1109.0,1024.80 L1109.5,1024.80 L1110.0,1024.80 L1110.5,1024.80 L1111.0,1024.80 L1111.5,1024.80 L1112.0,1024.80 L1112.5,1024.80 L1113.0,1024.80 L1113.5,1024.80 L1114.0,1024.80 L1114.5,1024.80 L1115.0,1024.80 L1115.5,1024.80 L1116.0,1024.80 L1116.5,1024.80 L1117.0,1024.80 L1117.5,1024.80 L1118.0,1024.80 L1118.5,1024.80 L1119.0,1024.80 L1119.5,1024.80 L1120.0,1024.80 L1120.5,1024.80 L1121.0,1024.80 L1121.5,1024.80 L1122.0,1024.80 L1122.5,1024.80 L1123.0,1024.80 L1123.5,1024.80 L1124.0,1024.80 L1124.5,1024.80 L1125.0,1024.80 L1125.5,1024.80 L1126.0,1024.80 L1126.5,1024.80 L1127.0,1024.80 L1127.5,1024.80 L1128.0,1024.80 L1128.5,1024.80 L1129.0,1024.80 L1129.5,1024.80 L1130.0,1024.80 L1130.5,1024.80 L1131.0,1024.80 L1131.5,1024.80 L1132.0,1024.80 L1132.5,1024.80 L1133.0,1024.80 L1133.5,1024.80 L1134.0,1024.80 L1134.5,1024.80 L1135.0,1024.80 L1135.5,1024.80 L1136.0,1024.80 L1136.5,1024.80 L1137.0,1024.80 L1137.5,1024.80 L1138.0,1024.80 L1138.5,1024.80 L1139.0,1024.80 L1139.5,1024.80 L1140.0,1024.80 L1140.5,1024.80 L1141.0,1024.80 L1141.5,1024.80 L1142.0,1024.80 L1142.5,1024.80 L1143.0,1024.80 L1143.5,1024.80 L1144.0,1024.80 L1144.5,1024.80 L1145.0,1024.80 L1145.5,1024.80 L1146.0,1024.80 L1146.5,1024.80 L1147.0,1024.80 L1147.5,1024.80 L1148.0,1024.80 L1148.5,1024.80 L1149.0,1024.80 L1149.5,1024.80 L1150.0,1024.80 L1150.5,1024.80 L1151.0,1024.80 L1151.5,1024.80 L1152.0,1024.80 L1152.5,1024.80 L1153.0,1024.80 L1153.5,1024.80 L1154.0,1024.80 L1154.5,1024.80 L1155.0,1024.80 L1155.5,1024.80 L1156.0,1024.80 L1156.5,1024.80 L1157.0,1024.80 L1157.5,1024.80 L1158.0,1024.80 L1158.5,1024.80 L1159.0,1024.80 L1159.5,1024.80 L1160.0,1024.80 L1160.5,1024.80 L1161.0,1024.80 L1161.5,1024.80 L1162.0,1024.80 L1162.5,1024.80 L1163.0,1024.80 L1163.5,1024.80 L1164.0,1024.80 L1164.5,1024.80 L1165.0,1024.80 L1165.5,1024.80 L1166.0,1024.80 L1166.5,1024.80 L1167.0,1024.80 L1167.5,1024.80 L1168.0,1024.80 L1168.5,1024.80 L1169.0,1024.80 L1169.5,1024.80 L1170.0,1024.80 L1170.5,1024.80 L1171.0,1024.80 L1171.5,1024.80 L1172.0,1024.80 L1172.5,1024.80 L1173.0,1024.80 L1173.5,1024.80 L1174.0,1024.80 L1174.5,1024.80 L1175.0,1024.80 L1175.5,1024.80 L1176.0,1024.80 L1176.5,1024.80 L1177.0,1024.80 L1177.5,1024.80 L1178.0,1024.80 L1178.5,1024.80 L1179.0,1024.80 L1179.5,1024.80 L1180.0,1024.80 L1180.5,1024.80 L1181.0,1024.80 L1181.5,1024.80 L1182.0,1024.80 L1182.5,1024.80 L1183.0,1024.80 L1183.5,1024.80 L1184.0,1024.80 L1184.5,1024.80 L1185.0,1024.80 L1185.5,1024.80 L1186.0,1024.80 L1186.5,1024.80 L1187.0,1024.80 L1187.5,1024.80 L1188.0,1024.80 L1188.5,1024.80 L1189.0,1024.80 L1189.5,1024.80 L1190.0,1024.80 L1190.5,1024.80 L1191.0,1024.80 L1191.5,1024.80 L1192.0,1024.80 L1192.5,1024.80 L1193.0,1024.80 L1193.5,1024.80 L1194.0,1024.80 L1194.5,1024.80 L1195.0,1024.80 L1195.5,1024.80 L1196.0,1024.80 L1196.5,1024.80 L1197.0,1024.80 L1197.5,1024.80 L1198.0,1024.80 L1198.5,1024.80 L1199.0,1024.80 L1199.5,1024.80 L1200.0,1024.80 L1200.5,1024.80 L1201.0,1024.80 L1201.5,1024.80 L1202.0,1024.80 L1202.5,1024.80 L1203.0,1024.80 L1203.5,1024.80 L1204.0,1024.80 L1204.5,1024.80 L1205.0,1024.80 L1205.5,1024.80 L1206.0,1024.80 L1206.5,1024.80 L1207.0,1024.80 L1207.5,1024.80 L1208.0,1024.80 L1208.5,1024.80 L1209.0,1024.80 L1209.5,1024.80 L1210.0,1024.80 L1210.5,1024.80 L1211.0,1024.80 L1211.5,1024.80 L1212.0,1024.80 L1212.5,1024.80 L1213.0,1024.80 L1213.5,1024.80 L1214.0,1024.80 L1214.5,1024.80 L1215.0,1024.80 L1215.5,1024.80 L1216.0,1024.80 L1216.5,1024.80 L1217.0,1024.80 L1217.5,1024.80 L1218.0,1024.80 L1218.5,1024.80 L1219.0,1024.80 L1219.5,1024.80 L1220.0,1024.80 L1220.5,1024.80 L1221.0,1024.80 L1221.5,1024.80 L1222.0,1024.80 L1222.5,1024.80 L1223.0,1024.80 L1223.5,1024.80 L1224.0,1024.80 L1224.5,1024.80 L1225.0,1024.80 L1225.5,1024.80 L1226.0,1024.80 L1226.5,1024.80 L1227.0,1024.80 L1227.5,1024.80 L1228.0,1024.80 L1228.5,1024.80 L1229.0,1024.80 L1229.5,1024.80 L1230.0,1024.80 L1230.5,1024.80 L1231.0,1024.80 L1231.5,1024.80 L1232.0,1024.80 L1232.5,1024.80 L1233.0,1024.80 L1233.5,1024.80 L1234.0,1024.80 L1234.5,1024.80 L1235.0,1024.80 L1235.5,1024.80 L1236.0,1024.80 L1236.5,1024.80 L1237.0,1024.80 L1237.5,1024.80 L1238.0,1024.80 L1238.5,1024.80 L1239.0,1024.80 L1239.5,1024.80 L1240.0,1024.80 L1240.5,1024.80 L1241.0,1024.80 L1241.5,1024.80 L1242.0,1024.80 L1242.5,1024.80 L1243.0,1024.80 L1243.5,1024.80 L1244.0,1024.80 L1244.5,1024.80 L1245.0,1024.80 L1245.5,1024.80 L1246.0,1024.80 L1246.5,1024.80 L1247.0,1024.80 L1247.5,1024.80 L1248.0,1024.80 L1248.5,1024.80 L1249.0,1024.80 L1249.5,1024.80 L1250.0,1024.80 L1250.5,1024.80 L1251.0,1024.80 L1251.5,1024.80 L1252.0,1024.80 L1252.5,1024.80 L1253.0,1024.80 L1253.5,1024.80 L1254.0,1024.80 L1254.5,1024.80 L1255.0,1024.80 L1255.5,1024.80 L1256.0,1024.80 L1256.5,1024.80 L1257.0,1024.80 L1257.5,1024.80 L1258.0,1024.80 L1258.5,1024.80 L1259.0,1024.80 L1259.5,1024.80 L1260.0,1024.80 L1260.5,1024.80 L1261.0,1024.80 L1261.5,1024.80 L1262.0,1024.80 L1262.5,1024.80 L1263.0,1024.80 L1263.5,1024.80 L1264.0,1024.80 L1264.5,1024.80 L1265.0,1024.80 L1265.5,1024.80 L1266.0,1024.80 L1266.5,1024.80 L1267.0,1024.80 L1267.5,1024.80 L1268.0,1024.80 L1268.5,1024.80 L1269.0,1024.80 L1269.5,1024.80 L1270.0,1024.80 L1270.5,1024.80 L1271.0,1024.80 L1271.5,1024.80 L1272.0,1024.80 L1272.5,1024.80 L1273.0,1024.80 L1273.5,1024.80 L1274.0,1024.80 L1274.5,1024.80 L1275.0,1024.80 L1275.5,1024.80 L1276.0,1024.80 L1276.5,1024.80 L1277.0,1024.80 L1277.5,1024.80 L1278.0,1024.80 L1278.5,1024.80 L1279.0,1024.80 L1279.5,1024.80 L1280.0,1024.80 L1280.5,1024.80 L1281.0,1024.80 L1281.5,1024.80 L1282.0,1024.80 L1282.5,1024.80 L1283.0,1024.80 L1283.5,1024.80 L1284.0,1024.80 L1284.5,1024.80 L1285.0,1024.80 L1285.5,1024.80 L1286.0,1024.80 L1286.5,1024.80 L1287.0,1024.80 L1287.5,1024.80 L1288.0,1024.80 L1288.5,1024.80 L1289.0,1024.80 L1289.5,1024.80 L1290.0,1024.80 L1290.5,1024.80 L1291.0,1024.80 L1291.5,1024.80 L1292.0,1024.80 L1292.5,1024.80 L1293.0,1024.80 L1293.5,1024.80 L1294.0,1024.80 L1294.5,1024.80 L1295.0,1024.80 L1295.5,1024.80 L1296.0,1024.80 L1296.5,1024.80 L1297.0,1024.80 L1297.5,1024.80 L1298.0,1024.80 L1298.5,1024.80 L1299.0,1024.80 L1299.5,1024.80 L1300.0,1024.80 L1300.5,1024.80 L1301.0,1024.80 L1301.5,1024.80 L1302.0,1024.80 L1302.5,1024.80 L1303.0,1024.80 L1303.5,1024.80 L1304.0,1024.80 L1304.5,1024.80 L1305.0,1024.80 L1305.5,1024.80 L1306.0,1024.80 L1306.5,1024.80 L1307.0,1024.80 L1307.5,1024.80 L1308.0,1024.80 L1308.5,1024.80 L1309.0,1024.80 L1309.5,1024.80 L1310.0,1024.80 L1310.5,1024.80 L1311.0,1024.80 L1311.5,1024.80 L1312.0,1024.80 L1312.5,1024.80 L1313.0,1024.80 L1313.5,1024.80 L1314.0,1024.80 L1314.5,1024.80 L1315.0,1024.80 L1315.5,1024.80 L1316.0,1024.80 L1316.5,1024.80 L1317.0,1024.80 L1317.5,1024.80 L1318.0,1024.80 L1318.5,1024.80 L1319.0,1024.80 L1319.5,1024.80 L1320.0,1024.80 L1320.5,1024.80 L1321.0,1024.80 L1321.5,1024.80 L1322.0,1024.80 L1322.5,1024.80 L1323.0,1024.80 L1323.5,1024.80 L1324.0,1024.80 L1324.5,1024.80 L1325.0,1024.80 L1325.5,1024.80 L1326.0,1024.80 L1326.5,1024.80 L1327.0,1024.80 L1327.5,1024.80 L1328.0,1024.80 L1328.5,1024.80 L1329.0,1024.80 L1329.5,1024.80 L1330.0,1024.80 L1330.5,1024.80 L1331.0,1024.80 L1331.5,1024.80 L1332.0,1024.80 L1332.5,1024.80 L1333.0,1024.80 L1333.5,1024.80 L1334.0,1024.80 L1334.5,1024.80 L1335.0,1024.80 L1335.5,1024.80 L1336.0,1024.80 L1336.5,1024.80 L1337.0,1024.80 L1337.5,1024.80 L1338.0,1024.80 L1338.5,1024.80 L1339.0,1024.80 L1339.5,1024.80 L1340.0,1024.80 L1340.5,1024.80 L1341.0,1024.80 L1341.5,1024.80 L1342.0,1024.80 L1342.5,1024.80 L1343.0,1024.80 L1343.5,1024.80 L1344.0,1024.80 L1344.5,1024.80 L1345.0,1024.80 L1345.5,1024.80 L1346.0,1024.80 L1346.5,1024.80 L1347.0,1024.80 L1347.5,1024.80 L1348.0,1024.80 L1348.5,1024.80 L1349.0,1024.80 L1349.5,1024.80 L1350.0,1024.80 L1350.5,1024.80 L1351.0,1024.80 L1351.5,1024.80 L1352.0,1024.80 L1352.5,1024.80 L1353.0,1024.80 L1353.5,1024.80 L1354.0,1024.80 L1354.5,1024.80 L1355.0,1024.80 L1355.5,1024.80 L1356.0,1024.80 L1356.5,1024.80 L1357.0,1024.80 L1357.5,1024.80 L1358.0,1024.80 L1358.5,1024.80 L1359.0,1024.80 L1359.5,1024.80 L1360.0,1024.80 L1360.5,1024.80 L1361.0,1024.80 L1361.5,1024.80 L1362.0,1024.80 L1362.5,1024.80 L1363.0,1024.80 L1363.5,1024.80 L1364.0,1024.80 L1364.5,1024.80 L1365.0,1024.80 L1365.5,1024.80 L1366.0,1024.80 L1366.5,1024.80 L1367.0,1024.80 L1367.5,1024.80 L1368.0,1024.80 L1368.5,1024.80 L1369.0,1024.80 L1369.5,1024.80 L1370.0,1024.80 L1370.5,1024.80 L1371.0,1024.80 L1371.5,1024.80 L1372.0,1024.80 L1372.5,1024.80 L1373.0,1024.80 L1373.5,1024.80 L1374.0,1024.80 L1374.5,1024.80 L1375.0,1024.80 L1375.5,1024.80 L1376.0,1024.80 L1376.5,1024.80 L1377.0,1024.80 L1377.5,1024.80 L1378.0,1024.80 L1378.5,1024.80 L1379.0,1024.80 L1379.5,1024.80 L1380.0,1024.80 L1380.5,1024.80 L1381.0,1024.80 L1381.5,1024.80 L1382.0,1024.80 L1382.5,1024.80 L1383.0,1024.80 L1383.5,1024.80 L1384.0,1024.80 L1384.5,1024.80 L1385.0,1024.80 L1385.5,1024.80 L1386.0,1024.80 L1386.5,1024.80 L1387.0,1024.80 L1387.5,1024.80 L1388.0,1024.80 L1388.5,1024.80 L1389.0,1024.80 L1389.5,1024.80 L1390.0,1024.80 L1390.5,1024.80 L1391.0,1024.80 L1391.5,1024.80 L1392.0,1024.80 L1392.5,1024.80 L1393.0,1024.80 L1393.5,1024.80 L1394.0,1024.80 L1394.5,1024.80 L1395.0,1024.80 L1395.5,1024.80 L1396.0,1024.80 L1396.5,1024.80 L1397.0,1024.80 L1397.5,1024.80 L1398.0,1024.80 L1398.5,1024.80 L1399.0,1024.80 L1399.5,1024.80 L1400.0,1024.80 L1400.5,1024.80 L1401.0,1024.80 L1401.5,1024.80 L1402.0,1024.80 L1402.5,1024.80 L1403.0,1024.80 L1403.5,1024.80 L1404.0,1024.80 L1404.5,1024.80 L1405.0,1024.80 L1405.5,1024.80 L1406.0,1024.80 L1406.5,1024.80 L1407.0,1024.80 L1407.5,1024.80 L1408.0,1024.80 L1408.5,1024.80 L1409.0,1024.80 L1409.5,1024.80 L1410.0,1024.80 L1410.5,1024.80 L1411.0,1024.80 L1411.5,1024.80 L1412.0,1024.80 L1412.5,1024.80 L1413.0,1024.80 L1413.5,1024.80 L1414.0,1024.80 L1414.5,1024.80 L1415.0,1024.80 L1415.5,1024.80 L1416.0,1024.80 L1416.5,1024.80 L1417.0,1024.80 L1417.5,1024.80 L1418.0,1024.80 L1418.5,1024.80 L1419.0,1024.80 L1419.5,1024.80 L1420.0,1024.80 L1420.5,1024.80 L1421.0,1024.80 L1421.5,1024.80 L1422.0,1024.80 L1422.5,1024.80 L1423.0,1024.80 L1423.5,1024.80 L1424.0,1024.80 L1424.5,1024.80 L1425.0,1024.80 L1425.5,1024.80 L1426.0,1024.80 L1426.5,1024.80 L1427.0,1024.80 L1427.5,1024.80 L1428.0,1024.80 L1428.5,1024.80 L1429.0,1024.80 L1429.5,1024.80 L1430.0,1024.80 L1430.5,1024.80 L1431.0,1024.80 L1431.5,1024.80 L1432.0,1024.80 L1432.5,1024.80 L1433.0,1024.80 L1433.5,1024.80 L1434.0,1024.80 L1434.5,1024.80 L1435.0,1024.80 L1435.5,1024.80 L1436.0,1024.80 L1436.5,1024.80 L1437.0,1024.80 L1437.5,1024.80 L1438.0,1024.80 L1438.5,1024.80 L1439.0,1024.80 L1439.5,1024.80 L1440.0,1024.80 L1440.5,1024.80 L1441.0,1024.80 L1441.5,1024.80 L1442.0,1024.80 L1442.5,1024.80 L1443.0,1024.80 L1443.5,1024.80 L1444.0,1024.80 L1444.5,1024.80 L1445.0,1024.80 L1445.5,1024.80 L1446.0,1024.80 L1446.5,1024.80 L1447.0,1024.80 L1447.5,1024.80 L1448.0,1024.80 L1448.5,1024.80 L1449.0,1024.80 L1449.5,1024.80 L1450.0,1024.80 L1450.5,1024.80 L1451.0,1024.80 L1451.5,1024.80 L1452.0,1024.80 L1452.5,1024.80 L1453.0,1024.80 L1453.5,1024.80 L1454.0,1024.80 L1454.5,1024.80 L1455.0,1024.80 L1455.5,1024.80 L1456.0,1024.80 L1456.5,1024.80 L1457.0,1024.80 L1457.5,1024.80 L1458.0,1024.80 L1458.5,1024.80 L1459.0,1024.80 L1459.5,1024.80 L1460.0,1024.80 L1460.5,1024.80 L1461.0,1024.80 L1461.5,1024.80 L1462.0,1024.80 L1462.5,1024.80 L1463.0,1024.80 L1463.5,1024.80 L1464.0,1024.80 L1464.5,1024.80 L1465.0,1024.80 L1465.5,1024.80 L1466.0,1024.80 L1466.5,1024.80 L1467.0,1024.80 L1467.5,1024.80 L1468.0,1024.80 L1468.5,1024.80 L1469.0,1024.80 L1469.5,1024.80 L1470.0,1024.80 L1470.5,1024.80 L1471.0,1024.80 L1471.5,1024.80 L1472.0,1024.80 L1472.5,1024.80 L1473.0,1024.80 L1473.5,1024.80 L1474.0,1024.80 L1474.5,1024.80 L1475.0,1024.80 L1475.5,1024.80 L1476.0,1024.80 L1476.5,1024.80 L1477.0,1024.80 L1477.5,1024.80 L1478.0,1024.80 L1478.5,1024.80 L1479.0,1024.80 L1479.5,1024.80 L1480.0,1024.80 L1480.5,1024.80 L1481.0,1024.80 L1481.5,1024.80 L1482.0,1024.80 L1482.5,1024.80 L1483.0,1024.80 L1483.5,1024.80 L1484.0,1024.80 L1484.5,1024.80 L1485.0,1024.80 L1485.5,1024.80 L1486.0,1024.80 L1486.5,1024.80 L1487.0,1024.80 L1487.5,1024.80 L1488.0,1024.80 L1488.5,1024.80 L1489.0,1024.80 L1489.5,1024.80 L1490.0,1024.80 L1490.5,1024.80 L1491.0,1024.80 L1491.5,1024.80 L1492.0,1024.80 L1492.5,1024.80 L1493.0,1024.80 L1493.5,1024.80 L1494.0,1024.80 L1494.5,1024.80 L1495.0,1024.80 L1495.5,1024.80 L1496.0,1024.80 L1496.5,1024.80 L1497.0,1024.80 L1497.5,1024.80 L1498.0,1024.80 L1498.5,1024.80 L1499.0,1024.80 L1499.5,1024.80 L1500.0,1024.80 L1500.5,1024.80 L1501.0,1024.80 L1501.5,1024.80 L1502.0,1024.80 L1502.5,1024.80 L1503.0,1024.80 L1503.5,1024.80 L1504.0,1024.80 L1504.5,1024.80 L1505.0,1024.80 L1505.5,1024.80 L1506.0,1024.80 L1506.5,1024.80 L1507.0,1024.80 L1507.5,1024.80 L1508.0,1024.80 L1508.5,1024.80 L1509.0,1024.80 L1509.5,1024.80 L1510.0,1024.80 L1510.5,1024.80 L1511.0,1024.80 L1511.5,1024.80 L1512.0,1024.80 L1512.5,1024.80 L1513.0,1024.80 L1513.5,1024.80 L1514.0,1024.80 L1514.5,1024.80 L1515.0,1024.80 L1515.5,1024.80 L1516.0,1024.80 L1516.5,1024.80 L1517.0,1024.80 L1517.5,1024.80 L1518.0,1024.80 L1518.5,1024.80 L1519.0,1024.80 L1519.5,1024.80 L1520.0,1024.80 L1520.5,1024.80 L1521.0,1024.80 L1521.5,1024.80 L1522.0,1024.80 L1522.5,1024.80 L1523.0,1024.80 L1523.5,1024.80 L1524.0,1024.80 L1524.5,1024.80 L1525.0,1024.80" stroke="#ff0000"/>
<path d="M190.00,1024.80 L191.50,1024.80 L193.00,1024.80 L194.50,1024.80 L196.00,1024.80 L197.50,1024.80 L199.00,1024.80 L200.50,1024.80 L202.00,1024.80 L203.50,1024.80 L205.00,1024.80 L206.50,1024.80 L208.00,1024.80 L209.50,1024.80 L211.00,1024.80 L212.50,1024.80 L214.00,1024.80 L215.50,1024.80 L217.00,1024.80 L218.50,1024.80 L220.00,1024.80 L221.50,1024.80 L221.85,1024.80 M262.55,1024.80 L264.05,1024.80 L265.55,1024.80 L267.05,1024.80 L268.55,1024.80 L270.05,1024.80 L271.55,1024.80 L273.05,1024.80 L274.55,1024.80 L276.05,1024.80 L277.55,1024.80 L279.05,1024.80 L280.55,1024.80 L282.05,1024.80 L283.55,1024.80 L285.05,1024.80 L286.55,1024.80 L288.05,1024.80 L289.55,1024.80 L290.85,1024.80 M331.50,1015.21 L332.85,1014.52 L334.20,1013.78 L335.50,1013.03 L336.80,1012.24 L338.10,1011.42 L339.40,1010.58 L340.70,1009.72 L341.95,1008.88 L343.20,1008.04 L344.45,1007.20 L345.70,1006.37 L347.00,1005.52 L348.30,1004.68 L349.60,1003.87 L350.90,1003.09 L352.25,1002.32 L353.60,1001.59 L354.95,1000.92 L356.35,1000.29 L357.75,999.74 L359.20,999.24 L360.65,998.84 L361.20,998.72 M400.40,1000.64 L401.90,1001.00 L403.40,1001.40 L404.85,1001.80 L406.30,1002.23 L407.75,1002.67 L409.20,1003.12 L410.65,1003.58 L412.10,1004.04 L413.55,1004.51 L415.00,1004.98 L416.45,1005.44 L417.90,1005.90 L419.35,1006.34 L420.80,1006.77 L422.25,1007.19 L423.70,1007.58 L425.20,1007.96 L426.70,1008.32 L428.20,1008.64 L429.70,1008.92 L430.60,1009.07 M469.20,1013.29 L470.70,1013.41 L472.20,1013.52 L473.70,1013.63 L475.20,1013.73 L476.70,1013.82 L478.20,1013.92 L479.70,1014.00 L481.20,1014.09 L482.70,1014.18 L484.20,1014.26 L485.70,1014.35 L487.20,1014.43 L488.70,1014.52 L490.20,1014.61 L491.70,1014.71 L493.20,1014.80 L494.70,1014.91 L496.20,1015.02 L497.70,1015.13 L498.70,1015.21 M538.10,1016.55 L539.60,1016.20 L541.05,1015.81 L542.50,1015.36 L543.95,1014.85 L545.35,1014.27 L546.75,1013.59 L548.10,1012.85 L549.40,1012.02 L550.65,1011.12 L551.85,1010.15 L553.00,1009.10 L554.10,1007.99 L555.15,1006.83 L556.15,1005.62 L557.10,1004.37 L558.00,1003.10 L558.85,1001.80 L559.65,1000.50 L560.45,999.12 L561.20,997.75 L561.90,996.40 L562.60,994.98 L563.05,994.03 M575.75,955.20 L575.90,953.63 L576.30,951.97 L576.65,950.49 L577.00,949.00 L577.35,947.48 L577.70,945.94 L578.05,944.38 L578.40,942.80 L578.75,941.20 L579.10,939.57 L579.45,937.92 L579.80,936.25 L580.15,934.56 L580.50,932.85 L580.80,931.36 L581.10,929.85 L581.40,928.33 L581.70,926.80 L582.00,925.24 M588.65,886.58 L588.90,884.97 L589.15,883.35 L589.40,881.72 L589.65,880.08 L589.90,878.43 L590.15,876.77 L590.40,875.09 L590.65,873.41 L590.90,871.71 L591.15,870.01 L591.40,868.29 L591.65,866.57 L591.90,864.83 L592.15,863.09 L592.40,861.33 L592.65,859.56 L592.90,857.79 L593.05,856.72 M598.40,816.40 L598.60,814.82 L598.80,813.23 L599.00,811.64 L599.20,810.05 L599.40,808.45 L599.60,806.85 L599.80,805.24 L600.00,803.63 L600.20,802.01 L600.40,800.39 L600.60,798.77 L600.80,797.14 L601.00,795.51 L601.20,793.88 L601.40,792.24 L601.60,790.60 L601.80,788.95 L601.95,787.72 M606.65,748.25 L606.85,746.55 L607.05,744.85 L607.25,743.14 L607.45,741.44 L607.65,739.74 L607.85,738.03 L608.05,736.33 L608.25,734.62 L608.45,732.92 L608.65,731.21 L608.85,729.51 L609.05,727.80 L609.25,726.10 L609.45,724.40 L609.65,722.69 L609.85,720.99 L610.00,719.71 M614.80,679.39 L615.00,677.75 L615.20,676.11 L615.40,674.47 L615.60,672.84 L615.80,671.21 L616.00,669.59 L616.20,667.97 L616.40,666.35 L616.60,664.74 L616.80,663.14 L617.00,661.54 L617.20,659.94 L617.40,658.35 L617.60,656.77 L617.80,655.19 L618.00,653.61 L618.20,652.04 L618.30,651.26 M623.75,611.28 L624.00,609.58 L624.25,607.91 L624.50,606.25 L624.75,604.60 L625.00,602.97 L625.25,601.35 L625.50,599.75 L625.75,598.16 L626.00,596.59 L626.25,595.04 L626.50,593.50 L626.75,591.98 L627.00,590.47 L627.25,588.98 L627.55,587.22 L627.85,585.48 L628.15,583.77 L628.40,582.36 M637.85,543.33 L638.45,541.86 L639.10,540.41 L639.80,539.01 L640.55,537.70 L641.40,536.45 L642.40,535.30 L643.60,534.37 L645.05,533.87 L646.55,534.04 L647.85,534.88 L648.85,536.00 L649.70,537.28 L650.45,538.65 L651.10,540.04 L651.70,541.47 L652.25,542.92 L652.75,544.34 L653.25,545.87 L653.70,547.33 L654.15,548.88 L654.60,550.50 L655.00,552.02 M662.45,591.28 L662.70,592.93 L662.95,594.60 L663.20,596.28 L663.45,597.99 L663.70,599.72 L663.95,601.46 L664.20,603.22 L664.45,605.00 L664.70,606.79 L664.95,608.61 L665.20,610.44 L665.45,612.28 L665.65,613.77 L665.85,615.27 L666.05,616.78 L666.25,618.30 L666.45,619.83 L666.55,620.60 M671.25,659.11 L671.45,660.83 L671.65,662.57 L671.85,664.31 L672.05,666.05 L672.25,667.80 L672.45,669.56 L672.65,671.32 L672.85,673.08 L673.05,674.85 L673.25,676.63 L673.45,678.41 L673.65,680.19 L673.85,681.98 L674.05,683.77 L674.25,685.57 L674.45,687.37 L674.55,688.27 M679.10,729.91 L679.30,731.75 L679.50,733.59 L679.70,735.44 L679.90,737.28 L680.10,739.12 L680.30,740.97 L680.50,742.81 L680.70,744.65 L680.90,746.49 L681.10,748.33 L681.30,750.17 L681.50,752.00 L681.70,753.84 M686.75,799.28 L686.95,801.03 L687.15,802.78 L687.35,804.52 L687.55,806.25 L687.75,807.99 L687.95,809.71 L688.15,811.43 L688.35,813.15 L688.55,814.86 L688.75,816.56 L688.95,818.26 L689.15,819.96 L689.35,821.65 L689.55,823.33 L689.60,823.75 M694.75,864.77 L694.95,866.27 L695.15,867.76 L695.40,869.61 L695.65,871.45 L695.90,873.28 L696.15,875.09 L696.40,876.90 L696.65,878.69 L696.90,880.46 L697.15,882.23 L697.40,883.98 L697.65,885.72 L697.90,887.45 L698.15,889.16 L698.40,890.86 L698.65,892.55 L698.90,894.23 L699.15,895.89 M705.70,933.51 L706.05,935.09 L706.40,936.67 L706.75,938.24 L707.10,939.80 L707.45,941.36 L707.80,942.90 L708.15,944.44 L708.50,945.97 L708.85,947.49 L709.20,949.00 L709.55,950.49 L709.90,951.97 L710.25,953.44 L710.65,955.10 L711.05,956.74 L711.45,958.35 L711.85,959.95 L712.25,961.51 L712.65,963.06 L712.90,964.01 M724.70,1002.36 L725.45,1003.69 L726.30,1004.93 L727.30,1006.11 L728.40,1007.15 L729.60,1008.10 L730.80,1009.01 L731.95,1009.97 L733.05,1011.07 L734.15,1012.14 L735.30,1013.17 L736.50,1014.16 L737.70,1015.07 L738.95,1015.94 L740.25,1016.78 L741.55,1017.56 L742.90,1018.32 L744.25,1019.03 L745.60,1019.69 L747.00,1020.30 L748.40,1020.85 L749.85,1021.37 L751.30,1021.84 L752.75,1022.28 L754.20,1022.68 L755.70,1023.06 L757.20,1023.43 L758.70,1023.79 L760.20,1024.12 L761.70,1024.41 L763.20,1024.63 L764.70,1024.78 L766.20,1024.80 L767.70,1024.80 L769.20,1024.80 L770.70,1024.80 L772.20,1024.80 L773.70,1024.80 L775.20,1024.80 L776.70,1024.80 L778.15,1024.80 M818.70,1024.80 L820.20,1024.80 L821.70,1024.80 L823.20,1024.80 L824.70,1024.80 L826.20,1024.80 L827.70,1024.80 L829.20,1024.80 L830.70,1024.80 L832.20,1024.80 L833.70,1024.80 L835.20,1024.80 L836.70,1024.80 L838.20,1024.80 L839.70,1024.80 L841.20,1024.80 L842.70,1024.80 L844.20,1024.80 L845.70,1024.80 L847.00,1024.80 M886.70,1024.80 L888.20,1024.80 L889.70,1024.80 L891.20,1024.80 L892.70,1024.80 L894.20,1024.80 L895.70,1024.80 L897.20,1024.80 L898.70,1024.80 L900.20,1024.80 L901.70,1024.80 L903.20,1024.80 L904.70,1024.80 L906.20,1024.80 L907.70,1024.80 L909.20,1024.80 L910.70,1024.80 L912.20,1024.80 L913.70,1024.80 L915.20,1024.80 L915.50,1024.80 M955.70,1024.80 L957.20,1024.80 L958.70,1024.80 L960.20,1024.80 L961.70,1024.80 L963.20,1024.80 L964.70,1024.80 L966.20,1024.80 L967.70,1024.80 L969.20,1024.80 L970.70,1024.80 L972.20,1024.80 L973.70,1024.80 L975.20,1024.80 L976.70,1024.80 L978.20,1024.80 L979.70,1024.80 L981.20,1024.80 L982.70,1024.80 L984.00,1024.80 M1024.60,1024.80 L1026.10,1024.80 L1027.60,1024.80 L1029.10,1024.80 L1030.60,1024.80 L1032.10,1024.80 L1033.60,1024.80 L1035.10,1024.80 L1036.60,1024.80 L1038.10,1024.80 L1039.60,1024.80 L1041.10,1024.80 L1042.60,1024.80 L1044.10,1024.80 L1045.60,1024.80 L1047.10,1024.80 L1048.60,1024.80 L1050.10,1024.80 L1051.60,1024.80 L1053.00,1024.80 M1093.10,1024.80 L1094.60,1024.80 L1096.10,1024.80 L1097.60,1024.80 L1099.10,1024.80 L1100.60,1024.80 L1102.10,1024.80 L1103.60,1024.80 L1105.10,1024.80 L1106.60,1024.80 L1108.10,1024.80 L1109.60,1024.80 L1111.10,1024.80 L1112.60,1024.80 L1114.10,1024.80 L1115.60,1024.80 L1117.10,1024.80 L1118.60,1024.80 L1120.10,1024.80 L1121.60,1024.80 L1121.90,1024.80 M1161.50,1024.80 L1163.00,1024.80 L1164.50,1024.80 L1166.00,1024.80 L1167.50,1024.80 L1169.00,1024.80 L1170.50,1024.80 L1172.00,1024.80 L1173.50,1024.80 L1175.00,1024.80 L1176.50,1024.80 L1178.00,1024.80 L1179.50,1024.80 L1181.00,1024.80 L1182.50,1024.80 L1184.00,1024.80 L1185.50,1024.80 L1187.00,1024.80 L1188.50,1024.80 L1190.00,1024.80 L1190.40,1024.80 M1231.00,1024.80 L1232.50,1024.80 L1234.00,1024.80 L1235.50,1024.80 L1237.00,1024.80 L1238.50,1024.80 L1240.00,1024.80 L1241.50,1024.80 L1243.00,1024.80 L1244.50,1024.80 L1246.00,1024.80 L1247.50,1024.80 L1249.00,1024.80 L1250.50,1024.80 L1252.00,1024.80 L1253.50,1024.80 L1255.00,1024.80 L1256.50,1024.80 L1258.00,1024.80 L1259.30,1024.80 M1280.80,1024.80 L1282.30,1024.80 L1283.80,1024.80 L1285.30,1024.80 L1286.80,1024.80 L1288.30,1024.80 L1289.80,1024.80 L1291.30,1024.80 L1292.80,1024.80 L1294.30,1024.80 L1295.80,1024.80 L1297.30,1024.80 L1298.80,1024.80 L1300.30,1024.80 L1301.80,1024.80 L1303.30,1024.80 L1304.80,1024.80 L1306.30,1024.80 L1307.80,1024.80 L1309.30,1024.80 L1309.60,1024.80 M1349.80,1024.80 L1351.30,1024.80 L1352.80,1024.80 L1354.30,1024.80 L1355.80,1024.80 L1357.30,1024.80 L1358.80,1024.80 L1360.30,1024.80 L1361.80,1024.80 L1363.30,1024.80 L1364.80,1024.80 L1366.30,1024.80 L1367.80,1024.80 L1369.30,1024.80 L1370.80,1024.80 L1372.30,1024.80 L1373.80,1024.80 L1375.30,1024.80 L1376.80,1024.80 L1378.30,1024.80 M1418.50,1024.80 L1420.00,1024.80 L1421.50,1024.80 L1423.00,1024.80 L1424.50,1024.80 L1426.00,1024.80 L1427.50,1024.80 L1429.00,1024.80 L1430.50,1024.80 L1432.00,1024.80 L1433.50,1024.80 L1435.00,1024.80 L1436.50,1024.80 L1438.00,1024.80 L1439.50,1024.80 L1441.00,1024.80 L1442.50,1024.80 L1444.00,1024.80 L1445.50,1024.80 L1447.00,1024.80 M1487.30,1024.80 L1488.80,1024.80 L1490.30,1024.80 L1491.80,1024.80 L1493.30,1024.80 L1494.80,1024.80 L1496.30,1024.80 L1497.80,1024.80 L1499.30,1024.80 L1500.80,1024.80 L1502.30,1024.80 L1503.80,1024.80 L1505.30,1024.80 L1506.80,1024.80 L1508.30,1024.80 L1509.80,1024.80 L1511.30,1024.80 L1512.80,1024.80 L1514.30,1024.80 L1515.80,1024.80 L1517.30,1024.80 L1518.80,1024.80 L1520.30,1024.80 L1521.80,1024.80 L1523.30,1024.80 L1524.80,1024.80 L1526.30,1024.80 L1527.80,1024.80 L1529.30,1024.80 L1530.80,1024.80 L1531.30,1024.80" stroke="#0000ff"/>
</g>
<text x="135.30" y="1040.70" font-size="57" xml:space="preserve">0</text>
<text x="103.60" y="848.92" font-size="57" dx="1.3 -1.3" xml:space="preserve">10</text><g fill="#fdfdfd"><rect x="107.74" y="843.36" width="11.49" height="6.56"/><rect x="124.27" y="843.36" width="11.05" height="6.56"/></g>
<text x="103.60" y="657.14" font-size="57" xml:space="preserve">20</text>
<text x="103.60" y="465.36" font-size="57" xml:space="preserve">30</text>
<text x="103.60" y="273.58" font-size="57" xml:space="preserve">40</text>
<text x="103.60" y="81.80" font-size="57" xml:space="preserve">50</text>
<text x="304.75" y="1101.80" font-size="57" dx="1.3" xml:space="preserve">1</text><g fill="#fdfdfd"><rect x="308.89" y="1096.24" width="11.49" height="6.56"/><rect x="325.42" y="1096.24" width="11.05" height="6.56"/></g>
<text x="686.30" y="1101.80" font-size="57" dx="1.3 -1.3" xml:space="preserve">10</text><g fill="#fdfdfd"><rect x="690.44" y="1096.24" width="11.49" height="6.56"/><rect x="706.97" y="1096.24" width="11.05" height="6.56"/></g>
<text x="1067.85" y="1101.80" font-size="57" dx="1.3 -1.3 0" xml:space="preserve">100</text><g fill="#fdfdfd"><rect x="1071.99" y="1096.24" width="11.49" height="6.56"/><rect x="1088.52" y="1096.24" width="11.05" height="6.56"/></g>
<text x="1449.40" y="1101.80" font-size="57" dx="1.3 -1.3 0 0" xml:space="preserve">1000</text><g fill="#fdfdfd"><rect x="1453.54" y="1096.24" width="11.49" height="6.56"/><rect x="1470.07" y="1096.24" width="11.05" height="6.56"/></g>
<g fill="none" stroke-width="7.4" stroke-linecap="round">
<path d="M750.7,147.3 H786.1 M810.1,147.3 H813.6 M837.3,147.3 H856.3" stroke="#000"/>
<path d="M750.7,221.5 H856.3" stroke="#ff0000"/>
<path d="M750.7,296.4 H779.6 M819.6,296.4 H848.3" stroke="#0000ff"/>
</g>
<g transform="translate(868.5,163.3) scale(1,1.05)"><text x="0.00" y="0.00" font-size="61" xml:space="preserve">235 Kpa  (Span 3.462)</text></g>
<g transform="translate(872.0,237.2) scale(1,1.05)"><text x="0.00" y="0.00" font-size="61" xml:space="preserve">255 Kpa  (Span 0.266)</text></g>
<g transform="translate(872.0,312.8) scale(1,1.05)"><text x="0.00" y="0.00" font-size="61" dx="0 0 0 0 0 0 0 0 0 0 0 0 0 0 0 1.3 -1.3 0 0 1.3 -1.3" xml:space="preserve">275 Kpa  (Span 1.081)</text><g fill="#fdfdfd"><rect x="445.33" y="-5.86" width="12.19" height="6.86"/><rect x="462.91" y="-5.86" width="11.72" height="6.86"/><rect x="564.05" y="-5.86" width="12.19" height="6.86"/><rect x="581.63" y="-5.86" width="11.72" height="6.86"/></g></g>
<g transform="translate(689,1176.9) scale(1,1.05)"><text x="0" y="0" font-size="61">Partilcle size (<tspan font-family="Liberation Serif" dx="-3">μ</tspan>m)</text></g>
<g transform="translate(76,697) rotate(-90) scale(1,1.05)"><text x="0" y="0" font-size="61">Volume (%)</text></g>
</svg>
</body></html>
